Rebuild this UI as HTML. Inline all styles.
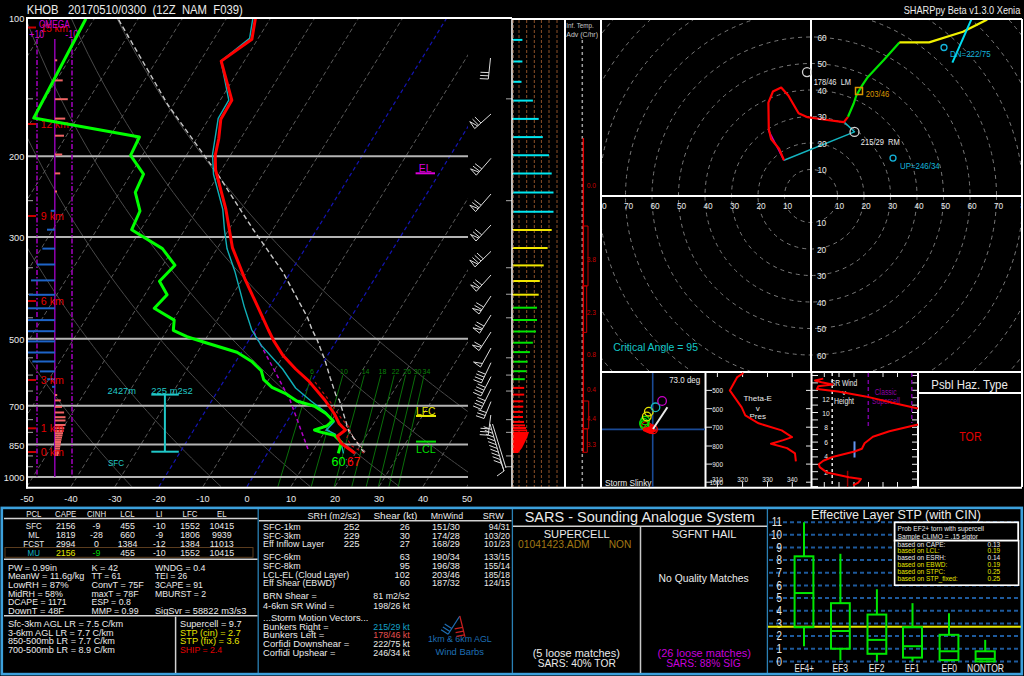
<!DOCTYPE html>
<html><head><meta charset="utf-8"><style>
html,body{margin:0;padding:0;background:#000;width:1024px;height:676px;overflow:hidden}
svg{display:block;font-family:"Liberation Sans",sans-serif}
</style></head><body>
<svg width="1024" height="676" viewBox="0 0 1024 676">
<rect width="1024" height="676" fill="#000"/>
<clipPath id="sk"><rect x="28" y="19" width="440" height="468"/></clipPath>
<g clip-path="url(#sk)">
<polyline points="131.8,486.63 130.01,484.72 128.21,482.8 126.4,480.85 124.58,478.89 122.75,476.91 120.91,474.9 119.07,472.88 117.21,470.83 115.34,468.77 113.47,466.68 111.58,464.57 109.68,462.44 107.77,460.29 105.85,458.11 103.92,455.91 101.98,453.68 100.03,451.43 98.06,449.15 96.09,446.85 94.1,444.52 92.1,442.16 90.09,439.77 88.07,437.35 86.03,434.91 83.98,432.43 81.92,429.93 79.85,427.39 77.76,424.82 75.66,422.21 73.54,419.57 71.41,416.89 69.27,414.18 67.11,411.43 64.94,408.65 62.75,405.82 60.55,402.95 58.33,400.04 56.09,397.09 53.84,394.09 51.58,391.05 49.29,387.96 46.99,384.82 44.67,381.63 42.34,378.39 39.98,375.1 37.61,371.75 35.22,368.34 32.81,364.87 30.38,361.35 27.93,357.76 25.46,354.1 22.97,350.37 20.46,346.58 17.92,342.71 15.37,338.76 12.79,334.73 10.18,330.63 7.56,326.43 4.91,322.14 2.23,317.76 -0.47,313.28 -3.19,308.7 -5.95,304.01 -8.73,299.21 -11.53,294.29 -14.37,289.24 -17.24,284.07 -20.13,278.75 -23.06,273.29 -26.02,267.68 -29.01,261.9 -32.03,255.95 -35.09,249.82 -38.18,243.49 -41.3,236.95 -44.47,230.2 -47.66,223.2 -50.9,215.96 -54.18,208.43 -57.49,200.62 -60.84,192.48 -64.23,184 -67.67,175.14 -71.14,165.87 -74.65,156.14 -78.2,145.92 -81.79,135.15 -85.41,123.75 -89.07,111.67 -92.75,98.81 -96.45,85.06 -100.16,70.29 -103.87,54.34 -107.56,37 -111.19,18" fill="none" stroke="#484848" stroke-width="1" stroke-linejoin="round"/>
<polyline points="221.03,486.63 219,484.72 216.95,482.8 214.9,480.85 212.83,478.89 210.75,476.91 208.66,474.9 206.56,472.88 204.45,470.83 202.32,468.77 200.19,466.68 198.04,464.57 195.87,462.44 193.7,460.29 191.51,458.11 189.31,455.91 187.1,453.68 184.87,451.43 182.63,449.15 180.38,446.85 178.11,444.52 175.83,442.16 173.53,439.77 171.22,437.35 168.89,434.91 166.55,432.43 164.19,429.93 161.82,427.39 159.43,424.82 157.02,422.21 154.6,419.57 152.16,416.89 149.7,414.18 147.23,411.43 144.73,408.65 142.22,405.82 139.69,402.95 137.15,400.04 134.58,397.09 131.99,394.09 129.38,391.05 126.76,387.96 124.11,384.82 121.44,381.63 118.75,378.39 116.03,375.1 113.3,371.75 110.54,368.34 107.75,364.87 104.95,361.35 102.11,357.76 99.25,354.1 96.37,350.37 93.46,346.58 90.52,342.71 87.56,338.76 84.56,334.73 81.54,330.63 78.48,326.43 75.4,322.14 72.28,317.76 69.13,313.28 65.95,308.7 62.74,304.01 59.49,299.21 56.2,294.29 52.87,289.24 49.51,284.07 46.11,278.75 42.66,273.29 39.18,267.68 35.65,261.9 32.08,255.95 28.46,249.82 24.8,243.49 21.08,236.95 17.32,230.2 13.5,223.2 9.64,215.96 5.71,208.43 1.73,200.62 -2.31,192.48 -6.41,184 -10.57,175.14 -14.8,165.87 -19.09,156.14 -23.45,145.92 -27.87,135.15 -32.37,123.75 -36.93,111.67 -41.57,98.81 -46.27,85.06 -51.03,70.29 -55.85,54.34 -60.72,37 -65.61,18" fill="none" stroke="#484848" stroke-width="1" stroke-linejoin="round"/>
<polyline points="310.27,486.63 307.99,484.72 305.7,482.8 303.4,480.85 301.08,478.89 298.75,476.91 296.41,474.9 294.05,472.88 291.69,470.83 289.3,468.77 286.91,466.68 284.49,464.57 282.07,462.44 279.63,460.29 277.17,458.11 274.7,455.91 272.22,453.68 269.72,451.43 267.2,449.15 264.66,446.85 262.12,444.52 259.55,442.16 256.97,439.77 254.37,437.35 251.75,434.91 249.11,432.43 246.46,429.93 243.78,427.39 241.09,424.82 238.38,422.21 235.65,419.57 232.9,416.89 230.13,414.18 227.34,411.43 224.53,408.65 221.7,405.82 218.84,402.95 215.97,400.04 213.06,397.09 210.14,394.09 207.19,391.05 204.22,387.96 201.23,384.82 198.2,381.63 195.16,378.39 192.08,375.1 188.98,371.75 185.85,368.34 182.7,364.87 179.51,361.35 176.3,357.76 173.05,354.1 169.77,350.37 166.46,346.58 163.12,342.71 159.75,338.76 156.34,334.73 152.89,330.63 149.41,326.43 145.89,322.14 142.33,317.76 138.74,313.28 135.1,308.7 131.42,304.01 127.7,299.21 123.93,294.29 120.12,289.24 116.26,284.07 112.35,278.75 108.39,273.29 104.38,267.68 100.31,261.9 96.19,255.95 92.01,249.82 87.77,243.49 83.47,236.95 79.11,230.2 74.67,223.2 70.17,215.96 65.6,208.43 60.95,200.62 56.23,192.48 51.42,184 46.53,175.14 41.55,165.87 36.48,156.14 31.31,145.92 26.04,135.15 20.67,123.75 15.2,111.67 9.61,98.81 3.91,85.06 -1.9,70.29 -7.83,54.34 -13.88,37 -20.03,18" fill="none" stroke="#484848" stroke-width="1" stroke-linejoin="round"/>
<polyline points="399.51,486.63 396.98,484.72 394.45,482.8 391.9,480.85 389.33,478.89 386.75,476.91 384.16,474.9 381.55,472.88 378.92,470.83 376.28,468.77 373.62,466.68 370.95,464.57 368.26,462.44 365.56,460.29 362.83,458.11 360.09,455.91 357.33,453.68 354.56,451.43 351.77,449.15 348.95,446.85 346.12,444.52 343.27,442.16 340.4,439.77 337.51,437.35 334.61,434.91 331.68,432.43 328.73,429.93 325.75,427.39 322.76,424.82 319.75,422.21 316.71,419.57 313.65,416.89 310.57,414.18 307.46,411.43 304.33,408.65 301.17,405.82 297.99,402.95 294.78,400.04 291.55,397.09 288.29,394.09 285,391.05 281.69,387.96 278.34,384.82 274.97,381.63 271.57,378.39 268.13,375.1 264.67,371.75 261.17,368.34 257.64,364.87 254.08,361.35 250.48,357.76 246.84,354.1 243.17,350.37 239.47,346.58 235.72,342.71 231.94,338.76 228.11,334.73 224.24,330.63 220.33,326.43 216.38,322.14 212.38,317.76 208.34,313.28 204.24,308.7 200.1,304.01 195.91,299.21 191.66,294.29 187.36,289.24 183,284.07 178.59,278.75 174.11,273.29 169.57,267.68 164.97,261.9 160.3,255.95 155.56,249.82 150.75,243.49 145.86,236.95 140.89,230.2 135.84,223.2 130.71,215.96 125.49,208.43 120.17,200.62 114.76,192.48 109.25,184 103.62,175.14 97.89,165.87 92.04,156.14 86.06,145.92 79.96,135.15 73.72,123.75 67.33,111.67 60.79,98.81 54.09,85.06 47.22,70.29 40.18,54.34 32.96,37 25.55,18" fill="none" stroke="#484848" stroke-width="1" stroke-linejoin="round"/>
<polyline points="488.74,486.63 485.98,484.72 483.19,482.8 480.4,480.85 477.58,478.89 474.75,476.91 471.91,474.9 469.04,472.88 466.16,470.83 463.26,468.77 460.34,466.68 457.41,464.57 454.46,462.44 451.48,460.29 448.49,458.11 445.48,455.91 442.45,453.68 439.4,451.43 436.33,449.15 433.24,446.85 430.13,444.52 427,442.16 423.84,439.77 420.66,437.35 417.46,434.91 414.24,432.43 410.99,429.93 407.72,427.39 404.43,424.82 401.11,422.21 397.77,419.57 394.4,416.89 391,414.18 387.58,411.43 384.13,408.65 380.65,405.82 377.14,402.95 373.6,400.04 370.04,397.09 366.44,394.09 362.81,391.05 359.15,387.96 355.46,384.82 351.74,381.63 347.98,378.39 344.18,375.1 340.35,371.75 336.49,368.34 332.58,364.87 328.64,361.35 324.66,357.76 320.64,354.1 316.58,350.37 312.47,346.58 308.32,342.71 304.13,338.76 299.89,334.73 295.6,330.63 291.26,326.43 286.87,322.14 282.43,317.76 277.94,313.28 273.39,308.7 268.78,304.01 264.12,299.21 259.39,294.29 254.6,289.24 249.75,284.07 244.83,278.75 239.83,273.29 234.77,267.68 229.63,261.9 224.41,255.95 219.11,249.82 213.72,243.49 208.25,236.95 202.68,230.2 197.01,223.2 191.25,215.96 185.38,208.43 179.39,200.62 173.29,192.48 167.07,184 160.72,175.14 154.23,165.87 147.6,156.14 140.82,145.92 133.87,135.15 126.76,123.75 119.46,111.67 111.97,98.81 104.27,85.06 96.35,70.29 88.2,54.34 79.8,37 71.13,18" fill="none" stroke="#484848" stroke-width="1" stroke-linejoin="round"/>
<polyline points="577.98,486.63 574.97,484.72 571.94,482.8 568.9,480.85 565.83,478.89 562.75,476.91 559.65,474.9 556.54,472.88 553.4,470.83 550.24,468.77 547.06,466.68 543.87,464.57 540.65,462.44 537.41,460.29 534.15,458.11 530.87,455.91 527.57,453.68 524.25,451.43 520.9,449.15 517.53,446.85 514.14,444.52 510.72,442.16 507.28,439.77 503.81,437.35 500.32,434.91 496.81,432.43 493.26,429.93 489.69,427.39 486.1,424.82 482.47,422.21 478.82,419.57 475.14,416.89 471.43,414.18 467.69,411.43 463.92,408.65 460.12,405.82 456.29,402.95 452.42,400.04 448.52,397.09 444.59,394.09 440.62,391.05 436.62,387.96 432.58,384.82 428.5,381.63 424.39,378.39 420.23,375.1 416.04,371.75 411.81,368.34 407.53,364.87 403.21,361.35 398.84,357.76 394.43,354.1 389.98,350.37 385.47,346.58 380.92,342.71 376.32,338.76 371.66,334.73 366.95,330.63 362.19,326.43 357.36,322.14 352.48,317.76 347.54,313.28 342.54,308.7 337.47,304.01 332.33,299.21 327.12,294.29 321.85,289.24 316.49,284.07 311.07,278.75 305.56,273.29 299.96,267.68 294.29,261.9 288.52,255.95 282.66,249.82 276.7,243.49 270.63,236.95 264.46,230.2 258.18,223.2 251.79,215.96 245.26,208.43 238.61,200.62 231.83,192.48 224.9,184 217.82,175.14 210.58,165.87 203.16,156.14 195.57,145.92 187.79,135.15 179.8,123.75 171.59,111.67 163.15,98.81 154.45,85.06 145.48,70.29 136.22,54.34 126.64,37 116.71,18" fill="none" stroke="#484848" stroke-width="1" stroke-linejoin="round"/>
<line x1="-457.02" y1="486.63" x2="-169.28" y2="18" stroke="#5c5c5c" stroke-width="1" stroke-dasharray="4.5,2.7"/>
<line x1="-413.02" y1="486.63" x2="-125.28" y2="18" stroke="#5c5c5c" stroke-width="1" stroke-dasharray="4.5,2.7"/>
<line x1="-369.02" y1="486.63" x2="-81.28" y2="18" stroke="#5c5c5c" stroke-width="1" stroke-dasharray="4.5,2.7"/>
<line x1="-325.02" y1="486.63" x2="-37.28" y2="18" stroke="#5c5c5c" stroke-width="1" stroke-dasharray="4.5,2.7"/>
<line x1="-281.02" y1="486.63" x2="6.72" y2="18" stroke="#5c5c5c" stroke-width="1" stroke-dasharray="4.5,2.7"/>
<line x1="-237.02" y1="486.63" x2="50.72" y2="18" stroke="#5c5c5c" stroke-width="1" stroke-dasharray="4.5,2.7"/>
<line x1="-193.02" y1="486.63" x2="94.72" y2="18" stroke="#5c5c5c" stroke-width="1" stroke-dasharray="4.5,2.7"/>
<line x1="-149.02" y1="486.63" x2="138.72" y2="18" stroke="#5c5c5c" stroke-width="1" stroke-dasharray="4.5,2.7"/>
<line x1="-105.02" y1="486.63" x2="182.72" y2="18" stroke="#5c5c5c" stroke-width="1" stroke-dasharray="4.5,2.7"/>
<line x1="-61.02" y1="486.63" x2="226.72" y2="18" stroke="#5c5c5c" stroke-width="1" stroke-dasharray="4.5,2.7"/>
<line x1="-17.02" y1="486.63" x2="270.72" y2="18" stroke="#5c5c5c" stroke-width="1" stroke-dasharray="4.5,2.7"/>
<line x1="26.98" y1="486.63" x2="314.72" y2="18" stroke="#5c5c5c" stroke-width="1" stroke-dasharray="4.5,2.7"/>
<line x1="70.98" y1="486.63" x2="358.72" y2="18" stroke="#5c5c5c" stroke-width="1" stroke-dasharray="4.5,2.7"/>
<line x1="114.98" y1="486.63" x2="402.72" y2="18" stroke="#5c5c5c" stroke-width="1" stroke-dasharray="4.5,2.7"/>
<line x1="202.98" y1="486.63" x2="490.72" y2="18" stroke="#5c5c5c" stroke-width="1" stroke-dasharray="4.5,2.7"/>
<line x1="290.98" y1="486.63" x2="578.72" y2="18" stroke="#5c5c5c" stroke-width="1" stroke-dasharray="4.5,2.7"/>
<line x1="334.98" y1="486.63" x2="622.72" y2="18" stroke="#5c5c5c" stroke-width="1" stroke-dasharray="4.5,2.7"/>
<line x1="378.98" y1="486.63" x2="666.72" y2="18" stroke="#5c5c5c" stroke-width="1" stroke-dasharray="4.5,2.7"/>
<line x1="422.98" y1="486.63" x2="710.72" y2="18" stroke="#5c5c5c" stroke-width="1" stroke-dasharray="4.5,2.7"/>
<line x1="466.98" y1="486.63" x2="754.72" y2="18" stroke="#5c5c5c" stroke-width="1" stroke-dasharray="4.5,2.7"/>
<line x1="158.98" y1="486.63" x2="446.72" y2="18" stroke="#1414b4" stroke-width="1.2" stroke-dasharray="4,3"/>
<line x1="246.98" y1="486.63" x2="534.72" y2="18" stroke="#1414b4" stroke-width="1.2" stroke-dasharray="4,3"/>
<line x1="277.89" y1="486.63" x2="311.59" y2="375.1" stroke="#0a6e0a" stroke-width="1"/>
<line x1="311.25" y1="486.63" x2="342.85" y2="375.1" stroke="#0a6e0a" stroke-width="1"/>
<line x1="334.2" y1="486.63" x2="364.31" y2="375.1" stroke="#0a6e0a" stroke-width="1"/>
<line x1="351.84" y1="486.63" x2="380.8" y2="375.1" stroke="#0a6e0a" stroke-width="1"/>
<line x1="366.22" y1="486.63" x2="394.22" y2="375.1" stroke="#0a6e0a" stroke-width="1"/>
<line x1="378.39" y1="486.63" x2="405.58" y2="375.1" stroke="#0a6e0a" stroke-width="1"/>
<line x1="388.95" y1="486.63" x2="415.42" y2="375.1" stroke="#0a6e0a" stroke-width="1"/>
<line x1="398.28" y1="486.63" x2="424.11" y2="375.1" stroke="#0a6e0a" stroke-width="1"/>
</g>
<text x="312" y="374" fill="#0a820a" font-size="7" text-anchor="middle">6</text>
<text x="344" y="374" fill="#0a820a" font-size="7" text-anchor="middle">10</text>
<text x="365.6" y="374" fill="#0a820a" font-size="7" text-anchor="middle">14</text>
<text x="382.4" y="374" fill="#0a820a" font-size="7" text-anchor="middle">18</text>
<text x="395.6" y="374" fill="#0a820a" font-size="7" text-anchor="middle">22</text>
<text x="407.2" y="374" fill="#0a820a" font-size="7" text-anchor="middle">26</text>
<text x="417.6" y="374" fill="#0a820a" font-size="7" text-anchor="middle">30</text>
<text x="426.4" y="374" fill="#0a820a" font-size="7" text-anchor="middle">34</text>
<line x1="27" y1="156.14" x2="468" y2="156.14" stroke="#b4b4b4" stroke-width="2"/>
<line x1="27" y1="236.95" x2="468" y2="236.95" stroke="#b4b4b4" stroke-width="2"/>
<line x1="27" y1="338.76" x2="468" y2="338.76" stroke="#b4b4b4" stroke-width="2"/>
<line x1="27" y1="405.82" x2="468" y2="405.82" stroke="#b4b4b4" stroke-width="2"/>
<line x1="27" y1="444.52" x2="468" y2="444.52" stroke="#b4b4b4" stroke-width="2"/>
<line x1="27" y1="476.91" x2="468" y2="476.91" stroke="#b4b4b4" stroke-width="2"/>
<line x1="27" y1="98.81" x2="33" y2="98.81" stroke="#8c8c8c" stroke-width="1.2"/>
<line x1="506" y1="98.81" x2="512" y2="98.81" stroke="#8c8c8c" stroke-width="1.2"/>
<line x1="27" y1="200.62" x2="33" y2="200.62" stroke="#8c8c8c" stroke-width="1.2"/>
<line x1="506" y1="200.62" x2="512" y2="200.62" stroke="#8c8c8c" stroke-width="1.2"/>
<line x1="27" y1="267.68" x2="33" y2="267.68" stroke="#8c8c8c" stroke-width="1.2"/>
<line x1="506" y1="267.68" x2="512" y2="267.68" stroke="#8c8c8c" stroke-width="1.2"/>
<line x1="27" y1="294.29" x2="33" y2="294.29" stroke="#8c8c8c" stroke-width="1.2"/>
<line x1="506" y1="294.29" x2="512" y2="294.29" stroke="#8c8c8c" stroke-width="1.2"/>
<line x1="27" y1="317.76" x2="33" y2="317.76" stroke="#8c8c8c" stroke-width="1.2"/>
<line x1="506" y1="317.76" x2="512" y2="317.76" stroke="#8c8c8c" stroke-width="1.2"/>
<line x1="27" y1="357.76" x2="33" y2="357.76" stroke="#8c8c8c" stroke-width="1.2"/>
<line x1="506" y1="357.76" x2="512" y2="357.76" stroke="#8c8c8c" stroke-width="1.2"/>
<line x1="27" y1="375.1" x2="33" y2="375.1" stroke="#8c8c8c" stroke-width="1.2"/>
<line x1="506" y1="375.1" x2="512" y2="375.1" stroke="#8c8c8c" stroke-width="1.2"/>
<line x1="27" y1="391.05" x2="33" y2="391.05" stroke="#8c8c8c" stroke-width="1.2"/>
<line x1="506" y1="391.05" x2="512" y2="391.05" stroke="#8c8c8c" stroke-width="1.2"/>
<line x1="27" y1="419.57" x2="33" y2="419.57" stroke="#8c8c8c" stroke-width="1.2"/>
<line x1="506" y1="419.57" x2="512" y2="419.57" stroke="#8c8c8c" stroke-width="1.2"/>
<line x1="27" y1="432.43" x2="33" y2="432.43" stroke="#8c8c8c" stroke-width="1.2"/>
<line x1="506" y1="432.43" x2="512" y2="432.43" stroke="#8c8c8c" stroke-width="1.2"/>
<line x1="27" y1="455.91" x2="33" y2="455.91" stroke="#8c8c8c" stroke-width="1.2"/>
<line x1="506" y1="455.91" x2="512" y2="455.91" stroke="#8c8c8c" stroke-width="1.2"/>
<line x1="27" y1="466.68" x2="33" y2="466.68" stroke="#8c8c8c" stroke-width="1.2"/>
<line x1="506" y1="466.68" x2="512" y2="466.68" stroke="#8c8c8c" stroke-width="1.2"/>
<text x="24.3" y="22.1" fill="#ebebeb" font-size="9.2" text-anchor="end">100</text>
<text x="24.3" y="160.24" fill="#ebebeb" font-size="9.2" text-anchor="end">200</text>
<text x="24.3" y="241.05" fill="#ebebeb" font-size="9.2" text-anchor="end">300</text>
<text x="24.3" y="342.86" fill="#ebebeb" font-size="9.2" text-anchor="end">500</text>
<text x="24.3" y="409.92" fill="#ebebeb" font-size="9.2" text-anchor="end">700</text>
<text x="24.3" y="448.62" fill="#ebebeb" font-size="9.2" text-anchor="end">850</text>
<text x="24.3" y="481.01" fill="#ebebeb" font-size="9.2" text-anchor="end">1000</text>
<text x="27" y="501.6" fill="#ebebeb" font-size="9.2" text-anchor="middle">-50</text>
<text x="71" y="501.6" fill="#ebebeb" font-size="9.2" text-anchor="middle">-40</text>
<text x="115" y="501.6" fill="#ebebeb" font-size="9.2" text-anchor="middle">-30</text>
<text x="159" y="501.6" fill="#ebebeb" font-size="9.2" text-anchor="middle">-20</text>
<text x="203" y="501.6" fill="#ebebeb" font-size="9.2" text-anchor="middle">-10</text>
<text x="247" y="501.6" fill="#ebebeb" font-size="9.2" text-anchor="middle">0</text>
<text x="291" y="501.6" fill="#ebebeb" font-size="9.2" text-anchor="middle">10</text>
<text x="335" y="501.6" fill="#ebebeb" font-size="9.2" text-anchor="middle">20</text>
<text x="379" y="501.6" fill="#ebebeb" font-size="9.2" text-anchor="middle">30</text>
<text x="423" y="501.6" fill="#ebebeb" font-size="9.2" text-anchor="middle">40</text>
<text x="467" y="501.6" fill="#ebebeb" font-size="9.2" text-anchor="middle">50</text>
<line x1="37" y1="39" x2="37" y2="477" stroke="#9000a8" stroke-width="1.7" stroke-dasharray="5,2,1.5,2"/>
<line x1="72" y1="39" x2="72" y2="477" stroke="#9000a8" stroke-width="1.7" stroke-dasharray="5,2,1.5,2"/>
<line x1="54.8" y1="39" x2="54.8" y2="477" stroke="#9000b0" stroke-width="1.5"/>
<line x1="50.7" y1="210.8" x2="55" y2="210.8" stroke="#1e64c8" stroke-width="2"/>
<line x1="47" y1="229.7" x2="55" y2="229.7" stroke="#1e64c8" stroke-width="2"/>
<line x1="42.4" y1="248.6" x2="55" y2="248.6" stroke="#1e64c8" stroke-width="2"/>
<line x1="37" y1="264.5" x2="55" y2="264.5" stroke="#1e64c8" stroke-width="2"/>
<line x1="31" y1="280.4" x2="55" y2="280.4" stroke="#1e64c8" stroke-width="2"/>
<line x1="29" y1="294.8" x2="55" y2="294.8" stroke="#1e64c8" stroke-width="2"/>
<line x1="28" y1="308.3" x2="55" y2="308.3" stroke="#1e64c8" stroke-width="2"/>
<line x1="28" y1="320.1" x2="55" y2="320.1" stroke="#1e64c8" stroke-width="2"/>
<line x1="28" y1="331.2" x2="55" y2="331.2" stroke="#1e64c8" stroke-width="2"/>
<line x1="28" y1="341.4" x2="55" y2="341.4" stroke="#1e64c8" stroke-width="2"/>
<line x1="28" y1="352.5" x2="55" y2="352.5" stroke="#1e64c8" stroke-width="2"/>
<line x1="32.3" y1="361.5" x2="55" y2="361.5" stroke="#1e64c8" stroke-width="2"/>
<line x1="40" y1="371.4" x2="55" y2="371.4" stroke="#1e64c8" stroke-width="2"/>
<line x1="47.2" y1="379.2" x2="55" y2="379.2" stroke="#1e64c8" stroke-width="2"/>
<line x1="52" y1="386.8" x2="55" y2="386.8" stroke="#1e64c8" stroke-width="2"/>
<line x1="55" y1="60.3" x2="57.2" y2="60.3" stroke="#f06464" stroke-width="2"/>
<line x1="55" y1="80.4" x2="62.7" y2="80.4" stroke="#f06464" stroke-width="2"/>
<line x1="55" y1="99.2" x2="67.8" y2="99.2" stroke="#f06464" stroke-width="2"/>
<line x1="55" y1="118.6" x2="65.2" y2="118.6" stroke="#f06464" stroke-width="2"/>
<line x1="55" y1="135.7" x2="64" y2="135.7" stroke="#f06464" stroke-width="2"/>
<line x1="55" y1="154.5" x2="62.2" y2="154.5" stroke="#f06464" stroke-width="2"/>
<line x1="55" y1="173.4" x2="60.2" y2="173.4" stroke="#f06464" stroke-width="2"/>
<line x1="55" y1="191.4" x2="57" y2="191.4" stroke="#f06464" stroke-width="2"/>
<line x1="55" y1="395" x2="57.2" y2="395" stroke="#f06464" stroke-width="2"/>
<line x1="55" y1="400.4" x2="60.8" y2="400.4" stroke="#f06464" stroke-width="2"/>
<line x1="55" y1="406.9" x2="62" y2="406.9" stroke="#f06464" stroke-width="2"/>
<line x1="55" y1="412.5" x2="64.1" y2="412.5" stroke="#f06464" stroke-width="2"/>
<line x1="55" y1="417.2" x2="65.5" y2="417.2" stroke="#f06464" stroke-width="2"/>
<line x1="55" y1="420.5" x2="65.5" y2="420.5" stroke="#f06464" stroke-width="2"/>
<line x1="55" y1="425" x2="65.5" y2="425" stroke="#f06464" stroke-width="2"/>
<line x1="55" y1="428.2" x2="64.3" y2="428.2" stroke="#f06464" stroke-width="2"/>
<line x1="55" y1="431" x2="63.5" y2="431" stroke="#f06464" stroke-width="2"/>
<line x1="55" y1="433.2" x2="63" y2="433.2" stroke="#f06464" stroke-width="2"/>
<line x1="55" y1="435.4" x2="62.5" y2="435.4" stroke="#f06464" stroke-width="2"/>
<line x1="55" y1="437.6" x2="62" y2="437.6" stroke="#f06464" stroke-width="2"/>
<line x1="55" y1="439.8" x2="61.5" y2="439.8" stroke="#f06464" stroke-width="2"/>
<line x1="55" y1="442" x2="61" y2="442" stroke="#f06464" stroke-width="2"/>
<line x1="55" y1="444.2" x2="60.7" y2="444.2" stroke="#f06464" stroke-width="2"/>
<line x1="55" y1="446.4" x2="60.3" y2="446.4" stroke="#f06464" stroke-width="2"/>
<line x1="55" y1="448.6" x2="60" y2="448.6" stroke="#f06464" stroke-width="2"/>
<line x1="55" y1="450.8" x2="59.5" y2="450.8" stroke="#f06464" stroke-width="2"/>
<line x1="55" y1="453" x2="59" y2="453" stroke="#f06464" stroke-width="2"/>
<line x1="55" y1="455" x2="58.5" y2="455" stroke="#f06464" stroke-width="2"/>
<line x1="27" y1="27.5" x2="36" y2="27.5" stroke="#c80000" stroke-width="2"/>
<text x="40.8" y="31.5" fill="#e60000" font-size="11.5" text-anchor="start" textLength="27" lengthAdjust="spacingAndGlyphs">15 km</text>
<line x1="27" y1="124" x2="36" y2="124" stroke="#c80000" stroke-width="2"/>
<text x="40.8" y="128" fill="#e60000" font-size="11.5" text-anchor="start" textLength="27.9" lengthAdjust="spacingAndGlyphs">12 km</text>
<line x1="27" y1="216" x2="36" y2="216" stroke="#c80000" stroke-width="2"/>
<text x="40.8" y="220" fill="#e60000" font-size="11.5" text-anchor="start" textLength="23" lengthAdjust="spacingAndGlyphs">9 km</text>
<line x1="27" y1="301" x2="36" y2="301" stroke="#c80000" stroke-width="2"/>
<text x="40.8" y="305" fill="#e60000" font-size="11.5" text-anchor="start" textLength="23" lengthAdjust="spacingAndGlyphs">6 km</text>
<line x1="27" y1="380" x2="36" y2="380" stroke="#c80000" stroke-width="2"/>
<text x="40.8" y="384" fill="#e60000" font-size="11.5" text-anchor="start" textLength="23" lengthAdjust="spacingAndGlyphs">3 km</text>
<line x1="27" y1="428.3" x2="36" y2="428.3" stroke="#c80000" stroke-width="2"/>
<text x="40.8" y="432.3" fill="#e60000" font-size="11.5" text-anchor="start" textLength="23" lengthAdjust="spacingAndGlyphs">1 km</text>
<line x1="27" y1="452" x2="36" y2="452" stroke="#c80000" stroke-width="2"/>
<text x="40.8" y="456" fill="#e60000" font-size="11.5" text-anchor="start" textLength="23" lengthAdjust="spacingAndGlyphs">0 km</text>
<text x="38.9" y="28.4" fill="#d200d2" font-size="10" text-anchor="start" textLength="31" lengthAdjust="spacingAndGlyphs">OMEGA</text>
<text x="29.3" y="37.7" fill="#d200d2" font-size="10" text-anchor="start" textLength="14.8" lengthAdjust="spacingAndGlyphs">+10</text>
<text x="65.3" y="37.7" fill="#d200d2" font-size="10" text-anchor="start" textLength="12.9" lengthAdjust="spacingAndGlyphs">-10</text>
<line x1="151.3" y1="394.6" x2="178.8" y2="394.6" stroke="#20c8c8" stroke-width="2"/>
<line x1="151.3" y1="451.7" x2="178.8" y2="451.7" stroke="#20c8c8" stroke-width="2"/>
<line x1="164.9" y1="394.6" x2="164.9" y2="451.7" stroke="#20c8c8" stroke-width="2"/>
<text x="151.3" y="394" fill="#20c8c8" font-size="9.5" text-anchor="start" textLength="41.4" lengthAdjust="spacingAndGlyphs">225 m2s2</text>
<text x="107.6" y="394.4" fill="#20c8c8" font-size="9.5" text-anchor="start" textLength="28.4" lengthAdjust="spacingAndGlyphs">2427m</text>
<text x="108" y="466.1" fill="#20c8c8" font-size="9.5" text-anchor="start" textLength="16.1" lengthAdjust="spacingAndGlyphs">SFC</text>
<polyline points="253.5,331.4 274.2,370 290,400 309,452" fill="none" stroke="#b400c8" stroke-width="1.5" stroke-linejoin="round" stroke-dasharray="4,3"/>
<polyline points="118.6,19.7 168,105 217.7,174.2 253.5,230 282.5,271.4 307.3,317 312.2,330 317,339.5 325.2,360.8 330,377.3 335.9,395.1 339.3,400 348.7,431 364.2,452.8" fill="none" stroke="#c8c8c8" stroke-width="1.4" stroke-linejoin="round" stroke-dasharray="5,3"/>
<polyline points="315,382 330,401.5 341,418 350.7,429 346.6,438.3 352,446 364,453" fill="none" stroke="#b41414" stroke-width="1.2" stroke-linejoin="round" stroke-dasharray="3,3"/>
<polyline points="346,425 354,438 366,453" fill="none" stroke="#e0a0a0" stroke-width="1" stroke-linejoin="round" stroke-dasharray="3,2"/>
<polyline points="252.8,18.5 249.6,38.4 221,61 228.8,100.2 218.2,118.3 212.5,154.5 213.5,174.2 222.8,209.4 224.5,230 227,248.6 234.9,271.4 244.2,306.6 251.8,330 261.3,345.4 282.6,369 295.6,388 311,401 325.9,412.4 334.2,421.7 326.4,430 335.2,434.2 341.4,444.5 343.5,453.3" fill="none" stroke="#10b0b8" stroke-width="1.4" stroke-linejoin="round"/>
<polyline points="85.9,18.8 33.8,118 139.4,137 130.6,155.3 143.5,174.2 135.3,192.4 140,211 131.7,229.7 162.4,248.6 174.9,265.2 159.5,281.3 167.1,294.8 154.3,308.3 174.2,320.1 173.3,330.3 187,336.7 205.9,342.8 237,352.2 251.8,361.4 261.3,370.8 263.7,379.7 272,387.4 286.2,393.9 296.8,401 314.5,406.2 325.9,413.5 333.1,420.7 326.9,425.9 314.5,430 320.7,432.1 334.2,435.2 341.4,442.4 338.3,453.3" fill="none" stroke="#00ff00" stroke-width="3" stroke-linejoin="round"/>
<polyline points="255.4,18.5 251.9,39.3 221.2,61.1 231.8,100.2 220.8,119.3 218.7,139 215.2,155.5 215.6,170 225.9,209.4 232.4,247.6 245.2,279.7 257.7,306.6 268.4,330 274.3,341.8 282.6,354.9 295.6,369 308.6,380.9 324.8,400 334.2,413.5 339.3,423.8 345.5,430 337.3,436.2 341.4,443.5 354.9,453.3" fill="none" stroke="#ff0000" stroke-width="3" stroke-linejoin="round"/>
<text x="331.6" y="466" fill="#00ff00" font-size="13.7" text-anchor="start" textLength="14" lengthAdjust="spacingAndGlyphs">60</text>
<text x="345.6" y="466" fill="#14b4c0" font-size="13.7" text-anchor="start" textLength="2" lengthAdjust="spacingAndGlyphs">:</text>
<text x="347" y="466" fill="#ff0000" font-size="13.7" text-anchor="start" textLength="13.4" lengthAdjust="spacingAndGlyphs">67</text>
<text x="416" y="414.6" fill="#e6e600" font-size="10.5" text-anchor="start" textLength="19.6" lengthAdjust="spacingAndGlyphs">LFC</text>
<line x1="416" y1="416" x2="436" y2="416" stroke="#e6e600" stroke-width="2"/>
<line x1="416" y1="441.6" x2="436" y2="441.6" stroke="#00dc00" stroke-width="2"/>
<text x="416" y="453.4" fill="#00dc00" font-size="10.5" text-anchor="start" textLength="19.6" lengthAdjust="spacingAndGlyphs">LCL</text>
<text x="418.8" y="172" fill="#dc00dc" font-size="10.5" text-anchor="start" textLength="12.8" lengthAdjust="spacingAndGlyphs">EL</text>
<line x1="415.6" y1="173.3" x2="435" y2="173.3" stroke="#dc00dc" stroke-width="2"/>
<line x1="490.5" y1="58" x2="488.3" y2="79" stroke="#dcdcdc" stroke-width="1"/>
<line x1="488.3" y1="79" x2="479.79" y2="78.61" stroke="#dcdcdc" stroke-width="1"/>
<line x1="488.63" y1="75.82" x2="480.13" y2="75.43" stroke="#dcdcdc" stroke-width="1"/>
<line x1="488.97" y1="72.63" x2="480.46" y2="72.25" stroke="#dcdcdc" stroke-width="1"/>
<line x1="491" y1="114" x2="474.7" y2="128.6" stroke="#dcdcdc" stroke-width="1"/>
<polyline points="474.7,128.6 469.77,121.6 477.68,125.93" fill="none" stroke="#dcdcdc" stroke-width="1" stroke-linejoin="round"/>
<line x1="478.57" y1="125.13" x2="472.53" y2="119.13" stroke="#dcdcdc" stroke-width="1"/>
<line x1="480.96" y1="123" x2="474.91" y2="117" stroke="#dcdcdc" stroke-width="1"/>
<line x1="491" y1="158.3" x2="476.3" y2="175.2" stroke="#dcdcdc" stroke-width="1"/>
<polyline points="476.3,175.2 470.54,168.87 478.93,172.18" fill="none" stroke="#dcdcdc" stroke-width="1" stroke-linejoin="round"/>
<line x1="479.71" y1="171.28" x2="472.97" y2="166.08" stroke="#dcdcdc" stroke-width="1"/>
<line x1="481.81" y1="168.86" x2="475.07" y2="163.66" stroke="#dcdcdc" stroke-width="1"/>
<line x1="491" y1="194" x2="475.6" y2="211.6" stroke="#dcdcdc" stroke-width="1"/>
<polyline points="475.6,211.6 469.86,205.25 478.23,208.59" fill="none" stroke="#dcdcdc" stroke-width="1" stroke-linejoin="round"/>
<line x1="479.02" y1="207.69" x2="472.3" y2="202.47" stroke="#dcdcdc" stroke-width="1"/>
<line x1="481.13" y1="205.28" x2="474.41" y2="200.06" stroke="#dcdcdc" stroke-width="1"/>
<line x1="491" y1="225" x2="476" y2="241" stroke="#dcdcdc" stroke-width="1"/>
<polyline points="476,241 470.48,234.46 478.74,238.08" fill="none" stroke="#dcdcdc" stroke-width="1" stroke-linejoin="round"/>
<line x1="479.56" y1="237.21" x2="473.01" y2="231.76" stroke="#dcdcdc" stroke-width="1"/>
<line x1="481.75" y1="234.87" x2="475.2" y2="229.42" stroke="#dcdcdc" stroke-width="1"/>
<line x1="491" y1="251.3" x2="475" y2="266.9" stroke="#dcdcdc" stroke-width="1"/>
<polyline points="475,266.9 469.78,260.12 477.86,264.11" fill="none" stroke="#dcdcdc" stroke-width="1" stroke-linejoin="round"/>
<line x1="478.72" y1="263.27" x2="472.43" y2="257.53" stroke="#dcdcdc" stroke-width="1"/>
<line x1="481.01" y1="261.04" x2="474.72" y2="255.3" stroke="#dcdcdc" stroke-width="1"/>
<line x1="483.31" y1="258.8" x2="477.01" y2="253.07" stroke="#dcdcdc" stroke-width="1"/>
<line x1="491" y1="275" x2="476.3" y2="291.3" stroke="#dcdcdc" stroke-width="1"/>
<polyline points="476.3,291.3 470.66,284.86 478.98,288.33" fill="none" stroke="#dcdcdc" stroke-width="1" stroke-linejoin="round"/>
<line x1="479.78" y1="287.44" x2="473.14" y2="282.12" stroke="#dcdcdc" stroke-width="1"/>
<line x1="481.93" y1="285.06" x2="475.28" y2="279.74" stroke="#dcdcdc" stroke-width="1"/>
<line x1="491" y1="296" x2="479" y2="314" stroke="#dcdcdc" stroke-width="1"/>
<polyline points="479,314 472.48,308.45 481.22,310.67" fill="none" stroke="#dcdcdc" stroke-width="1" stroke-linejoin="round"/>
<line x1="481.88" y1="309.67" x2="474.53" y2="305.37" stroke="#dcdcdc" stroke-width="1"/>
<line x1="483.66" y1="307.01" x2="476.31" y2="302.71" stroke="#dcdcdc" stroke-width="1"/>
<line x1="491" y1="315" x2="479.6" y2="333.2" stroke="#dcdcdc" stroke-width="1"/>
<polyline points="479.6,333.2 472.93,327.84 481.72,329.81" fill="none" stroke="#dcdcdc" stroke-width="1" stroke-linejoin="round"/>
<line x1="482.36" y1="328.79" x2="474.89" y2="324.7" stroke="#dcdcdc" stroke-width="1"/>
<line x1="484.06" y1="326.08" x2="476.59" y2="321.99" stroke="#dcdcdc" stroke-width="1"/>
<line x1="491" y1="332" x2="479" y2="350.6" stroke="#dcdcdc" stroke-width="1"/>
<polyline points="479,350.6 472.4,345.15 481.17,347.24" fill="none" stroke="#dcdcdc" stroke-width="1" stroke-linejoin="round"/>
<line x1="481.82" y1="346.23" x2="474.41" y2="342.04" stroke="#dcdcdc" stroke-width="1"/>
<line x1="491" y1="348" x2="480.5" y2="367" stroke="#dcdcdc" stroke-width="1"/>
<polyline points="480.5,367 473.54,362.01 482.43,363.5" fill="none" stroke="#dcdcdc" stroke-width="1" stroke-linejoin="round"/>
<line x1="491" y1="362.7" x2="481.4" y2="382.9" stroke="#dcdcdc" stroke-width="1"/>
<line x1="481.4" y1="382.9" x2="473.51" y2="379.7" stroke="#dcdcdc" stroke-width="1"/>
<line x1="482.77" y1="380.01" x2="474.88" y2="376.81" stroke="#dcdcdc" stroke-width="1"/>
<line x1="484.15" y1="377.12" x2="476.26" y2="373.92" stroke="#dcdcdc" stroke-width="1"/>
<line x1="485.52" y1="374.23" x2="477.63" y2="371.03" stroke="#dcdcdc" stroke-width="1"/>
<line x1="491" y1="376.6" x2="481" y2="395.9" stroke="#dcdcdc" stroke-width="1"/>
<line x1="481" y1="395.9" x2="473.22" y2="392.43" stroke="#dcdcdc" stroke-width="1"/>
<line x1="482.47" y1="393.06" x2="474.7" y2="389.59" stroke="#dcdcdc" stroke-width="1"/>
<line x1="483.94" y1="390.22" x2="476.17" y2="386.75" stroke="#dcdcdc" stroke-width="1"/>
<line x1="485.42" y1="387.38" x2="477.64" y2="383.91" stroke="#dcdcdc" stroke-width="1"/>
<line x1="491" y1="389.1" x2="481" y2="409.3" stroke="#dcdcdc" stroke-width="1"/>
<line x1="481" y1="409.3" x2="473.16" y2="405.98" stroke="#dcdcdc" stroke-width="1"/>
<line x1="482.42" y1="406.43" x2="474.58" y2="403.11" stroke="#dcdcdc" stroke-width="1"/>
<line x1="483.84" y1="403.56" x2="476" y2="400.24" stroke="#dcdcdc" stroke-width="1"/>
<line x1="485.26" y1="400.7" x2="477.42" y2="397.37" stroke="#dcdcdc" stroke-width="1"/>
<line x1="491" y1="401.6" x2="484" y2="418.5" stroke="#dcdcdc" stroke-width="1"/>
<line x1="484" y1="418.5" x2="475.96" y2="415.71" stroke="#dcdcdc" stroke-width="1"/>
<line x1="485.22" y1="415.54" x2="477.18" y2="412.75" stroke="#dcdcdc" stroke-width="1"/>
<line x1="486.45" y1="412.59" x2="478.4" y2="409.8" stroke="#dcdcdc" stroke-width="1"/>
<line x1="490.8" y1="415" x2="488.2" y2="435.2" stroke="#dcdcdc" stroke-width="1"/>
<line x1="488.2" y1="435.2" x2="479.71" y2="434.61" stroke="#dcdcdc" stroke-width="1"/>
<line x1="488.61" y1="432.03" x2="480.11" y2="431.44" stroke="#dcdcdc" stroke-width="1"/>
<line x1="489.02" y1="428.85" x2="480.52" y2="428.26" stroke="#dcdcdc" stroke-width="1"/>
<line x1="490" y1="424" x2="504" y2="471" stroke="#dcdcdc" stroke-width="1"/>
<line x1="492.5" y1="424" x2="506" y2="468" stroke="#dcdcdc" stroke-width="1"/>
<line x1="491.68" y1="429.64" x2="483.68" y2="426.64" stroke="#dcdcdc" stroke-width="1"/>
<line x1="492.8" y1="433.4" x2="484.8" y2="430.4" stroke="#dcdcdc" stroke-width="1"/>
<line x1="493.92" y1="437.16" x2="485.92" y2="434.16" stroke="#dcdcdc" stroke-width="1"/>
<line x1="495.04" y1="440.92" x2="487.04" y2="437.92" stroke="#dcdcdc" stroke-width="1"/>
<line x1="496.16" y1="444.68" x2="488.16" y2="441.68" stroke="#dcdcdc" stroke-width="1"/>
<line x1="497.28" y1="448.44" x2="489.28" y2="445.44" stroke="#dcdcdc" stroke-width="1"/>
<line x1="498.4" y1="452.2" x2="490.4" y2="449.2" stroke="#dcdcdc" stroke-width="1"/>
<line x1="499.52" y1="455.96" x2="491.52" y2="452.96" stroke="#dcdcdc" stroke-width="1"/>
<line x1="500.64" y1="459.72" x2="492.64" y2="456.72" stroke="#dcdcdc" stroke-width="1"/>
<line x1="501.76" y1="463.48" x2="493.76" y2="460.48" stroke="#dcdcdc" stroke-width="1"/>
<polyline points="500,460 503,468 504,471 497,476" fill="none" stroke="#dcdcdc" stroke-width="1" stroke-linejoin="round"/>
<line x1="519" y1="20" x2="519" y2="487" stroke="#8c5028" stroke-width="1" stroke-dasharray="3,2"/>
<line x1="526.7" y1="20" x2="526.7" y2="487" stroke="#8c5028" stroke-width="1" stroke-dasharray="3,2"/>
<line x1="534.3" y1="20" x2="534.3" y2="487" stroke="#8c5028" stroke-width="1" stroke-dasharray="3,2"/>
<line x1="541.4" y1="20" x2="541.4" y2="487" stroke="#8c5028" stroke-width="1" stroke-dasharray="3,2"/>
<line x1="549" y1="20" x2="549" y2="487" stroke="#8c5028" stroke-width="1" stroke-dasharray="3,2"/>
<line x1="557" y1="20" x2="557" y2="487" stroke="#8c5028" stroke-width="1" stroke-dasharray="3,2"/>
<line x1="512" y1="39.9" x2="522.4" y2="39.9" stroke="#00e6f0" stroke-width="2"/>
<line x1="512" y1="61.5" x2="522.4" y2="61.5" stroke="#00e6f0" stroke-width="2"/>
<line x1="512" y1="81.8" x2="521.5" y2="81.8" stroke="#00e6f0" stroke-width="2"/>
<line x1="512" y1="100.6" x2="532.9" y2="100.6" stroke="#00e6f0" stroke-width="2"/>
<line x1="512" y1="118.9" x2="538.7" y2="118.9" stroke="#00e6f0" stroke-width="2"/>
<line x1="512" y1="137.1" x2="542.8" y2="137.1" stroke="#00e6f0" stroke-width="2"/>
<line x1="512" y1="155.2" x2="549" y2="155.2" stroke="#00e6f0" stroke-width="2"/>
<line x1="512" y1="173.5" x2="551.7" y2="173.5" stroke="#00e6f0" stroke-width="2"/>
<line x1="512" y1="192.5" x2="553.5" y2="192.5" stroke="#00e6f0" stroke-width="2"/>
<line x1="512" y1="211.7" x2="553.5" y2="211.7" stroke="#00e6f0" stroke-width="2"/>
<line x1="512" y1="230" x2="551.7" y2="230" stroke="#f0e600" stroke-width="2"/>
<line x1="512" y1="248.1" x2="547.6" y2="248.1" stroke="#f0e600" stroke-width="2"/>
<line x1="512" y1="265.4" x2="543.7" y2="265.4" stroke="#f0e600" stroke-width="2"/>
<line x1="512" y1="281" x2="539.8" y2="281" stroke="#f0e600" stroke-width="2"/>
<line x1="512" y1="294.7" x2="538.7" y2="294.7" stroke="#f0e600" stroke-width="2"/>
<line x1="512" y1="307.7" x2="537" y2="307.7" stroke="#00e600" stroke-width="2"/>
<line x1="512" y1="320" x2="537" y2="320" stroke="#00e600" stroke-width="2"/>
<line x1="512" y1="331.5" x2="536" y2="331.5" stroke="#00e600" stroke-width="2"/>
<line x1="512" y1="342.7" x2="532.9" y2="342.7" stroke="#00e600" stroke-width="2"/>
<line x1="512" y1="352.1" x2="529.9" y2="352.1" stroke="#00e600" stroke-width="2"/>
<line x1="512" y1="361.7" x2="527.6" y2="361.7" stroke="#00e600" stroke-width="2"/>
<line x1="512" y1="371.2" x2="526.5" y2="371.2" stroke="#00e600" stroke-width="2"/>
<line x1="512" y1="379.2" x2="524.8" y2="379.2" stroke="#00e600" stroke-width="2"/>
<line x1="512" y1="387.9" x2="524.2" y2="387.9" stroke="#ff0000" stroke-width="2"/>
<line x1="512" y1="394.6" x2="524.2" y2="394.6" stroke="#ff0000" stroke-width="2"/>
<line x1="512" y1="401.3" x2="523.3" y2="401.3" stroke="#ff0000" stroke-width="2"/>
<line x1="512" y1="406.7" x2="523.3" y2="406.7" stroke="#ff0000" stroke-width="2"/>
<line x1="512" y1="411.9" x2="523" y2="411.9" stroke="#ff0000" stroke-width="2"/>
<line x1="512" y1="417" x2="523" y2="417" stroke="#ff0000" stroke-width="2"/>
<line x1="512" y1="421.9" x2="524" y2="421.9" stroke="#ff0000" stroke-width="2"/>
<line x1="512" y1="425.4" x2="525" y2="425.4" stroke="#ff0000" stroke-width="2"/>
<line x1="512" y1="428" x2="526" y2="428" stroke="#ff0000" stroke-width="2"/>
<line x1="512" y1="430.4" x2="527" y2="430.4" stroke="#ff0000" stroke-width="2"/>
<polygon points="512,432 529,432 527,438 522,448 518,453 512,453" fill="#ff0000" stroke="none" stroke-width="1"/>
<text x="566.3" y="27.8" fill="#c8c8c8" font-size="7.7" text-anchor="start" textLength="27.5" lengthAdjust="spacingAndGlyphs">Inf. Temp.</text>
<text x="566.3" y="36.7" fill="#c8c8c8" font-size="7.7" text-anchor="start" textLength="31.7" lengthAdjust="spacingAndGlyphs">Adv (C/hr)</text>
<line x1="582.3" y1="40" x2="582.3" y2="487" stroke="#a0a0a0" stroke-width="1.5" stroke-dasharray="3,3"/>
<line x1="583.3" y1="138" x2="583.3" y2="452" stroke="#e00000" stroke-width="1.5"/>
<polyline points="582.3,226 588,226 588,285.9 582.3,285.9" fill="none" stroke="#c80000" stroke-width="1" stroke-linejoin="miter"/>
<polyline points="582.3,285.9 586.7,285.9 586.7,332.4 582.3,332.4" fill="none" stroke="#c80000" stroke-width="1" stroke-linejoin="miter"/>
<polyline points="582.3,401 588.7,401 588.7,428.8 582.3,428.8" fill="none" stroke="#c80000" stroke-width="1" stroke-linejoin="miter"/>
<polyline points="582.3,428.8 587.3,428.8 587.3,452.3 582.3,452.3" fill="none" stroke="#c80000" stroke-width="1" stroke-linejoin="miter"/>
<text x="586.7" y="187.8" fill="#c80000" font-size="8" text-anchor="start" textLength="9.2" lengthAdjust="spacingAndGlyphs">0.0</text>
<text x="586.7" y="261.8" fill="#c80000" font-size="8" text-anchor="start" textLength="9.2" lengthAdjust="spacingAndGlyphs">3.8</text>
<text x="586.7" y="315.3" fill="#c80000" font-size="8" text-anchor="start" textLength="9.2" lengthAdjust="spacingAndGlyphs">2.3</text>
<text x="586.7" y="356.5" fill="#c80000" font-size="8" text-anchor="start" textLength="9.2" lengthAdjust="spacingAndGlyphs">0.8</text>
<text x="586.7" y="391.6" fill="#c80000" font-size="8" text-anchor="start" textLength="9.2" lengthAdjust="spacingAndGlyphs">0.4</text>
<text x="586.7" y="420.8" fill="#c80000" font-size="8" text-anchor="start" textLength="9.2" lengthAdjust="spacingAndGlyphs">4.4</text>
<text x="586.7" y="447" fill="#c80000" font-size="8" text-anchor="start" textLength="9.2" lengthAdjust="spacingAndGlyphs">3.3</text>
<line x1="27" y1="18" x2="512" y2="18" stroke="#ffffff" stroke-width="2"/>
<line x1="27" y1="17" x2="27" y2="488.5" stroke="#ffffff" stroke-width="2"/>
<line x1="26" y1="487.8" x2="601" y2="487.8" stroke="#ffffff" stroke-width="2"/>
<line x1="512" y1="18" x2="512" y2="488" stroke="#ffffff" stroke-width="1.5"/>
<line x1="513" y1="20" x2="513" y2="487" stroke="#c89678" stroke-width="1" stroke-dasharray="3,2"/>
<line x1="512" y1="19" x2="601" y2="19" stroke="#ffffff" stroke-width="2"/>
<line x1="565" y1="19" x2="565" y2="488" stroke="#ffffff" stroke-width="2"/>
<line x1="601" y1="19" x2="601" y2="487" stroke="#ffffff" stroke-width="2"/>
<text x="26.7" y="14" fill="#ebebeb" font-size="12.2" text-anchor="start" textLength="216" lengthAdjust="spacingAndGlyphs" xml:space="preserve">KHOB   20170510/0300  (12Z  NAM  F039)</text>
<text x="903.7" y="14.2" fill="#ebebeb" font-size="10.3" text-anchor="start" textLength="116.6" lengthAdjust="spacingAndGlyphs">SHARPpy Beta v1.3.0 Xenia</text>
<clipPath id="hd"><rect x="602" y="20" width="419" height="351"/></clipPath>
<g clip-path="url(#hd)">
<circle cx="811" cy="196" r="26.5" fill="none" stroke="#7a7a7a" stroke-width="1" stroke-dasharray="4,4"/>
<circle cx="811" cy="196" r="53" fill="none" stroke="#7a7a7a" stroke-width="1" stroke-dasharray="4,4"/>
<circle cx="811" cy="196" r="79.5" fill="none" stroke="#7a7a7a" stroke-width="1" stroke-dasharray="4,4"/>
<circle cx="811" cy="196" r="106" fill="none" stroke="#7a7a7a" stroke-width="1" stroke-dasharray="4,4"/>
<circle cx="811" cy="196" r="132.5" fill="none" stroke="#7a7a7a" stroke-width="1" stroke-dasharray="4,4"/>
<circle cx="811" cy="196" r="159" fill="none" stroke="#7a7a7a" stroke-width="1" stroke-dasharray="4,4"/>
<circle cx="811" cy="196" r="185.5" fill="none" stroke="#7a7a7a" stroke-width="1" stroke-dasharray="4,4"/>
<circle cx="811" cy="196" r="212" fill="none" stroke="#7a7a7a" stroke-width="1" stroke-dasharray="4,4"/>
<circle cx="811" cy="196" r="238.5" fill="none" stroke="#7a7a7a" stroke-width="1" stroke-dasharray="4,4"/>
<circle cx="811" cy="196" r="265" fill="none" stroke="#7a7a7a" stroke-width="1" stroke-dasharray="4,4"/>
<circle cx="811" cy="196" r="291.5" fill="none" stroke="#7a7a7a" stroke-width="1" stroke-dasharray="4,4"/>
<line x1="601" y1="196" x2="1022" y2="196" stroke="#ffffff" stroke-width="2"/>
<line x1="811" y1="19" x2="811" y2="371" stroke="#ffffff" stroke-width="2"/>
<polyline points="768.4,130.1 784,160.3" fill="none" stroke="#c800c8" stroke-width="1.5" stroke-linejoin="round"/>
<polyline points="784,160.3 854.5,131.9 844.4,122.2" fill="none" stroke="#14b4c0" stroke-width="1.5" stroke-linejoin="round"/>
<polyline points="784,160.3 779.1,148.8 771.1,139 768.8,129.3 768.4,102.6 772.9,91.6 781.2,87.5 788.3,95.5 798.6,113.3 807.5,117.2 823.5,119.5 843.9,122.2 848,116.8" fill="none" stroke="#ff0000" stroke-width="2.2" stroke-linejoin="round"/>
<polyline points="848,116.8 853.7,103.5 856.3,95.5 862.5,84.9 867.9,76.9 883.8,60 899.4,42.4" fill="none" stroke="#00e600" stroke-width="2.2" stroke-linejoin="round"/>
<polyline points="899.4,42.4 929.1,42.4 963,31.8 986.4,19.9 995,14" fill="none" stroke="#f0f000" stroke-width="2.2" stroke-linejoin="round"/>
<line x1="952.4" y1="62.7" x2="971.5" y2="19.1" stroke="#00dcf0" stroke-width="2"/>
<text x="787.5" y="208.5" fill="#ebebeb" font-size="8.3" text-anchor="middle">10</text>
<text x="839.5" y="208.5" fill="#ebebeb" font-size="8.3" text-anchor="middle">10</text>
<text x="761" y="208.5" fill="#ebebeb" font-size="8.3" text-anchor="middle">20</text>
<text x="866" y="208.5" fill="#ebebeb" font-size="8.3" text-anchor="middle">20</text>
<text x="734.5" y="208.5" fill="#ebebeb" font-size="8.3" text-anchor="middle">30</text>
<text x="892.5" y="208.5" fill="#ebebeb" font-size="8.3" text-anchor="middle">30</text>
<text x="708" y="208.5" fill="#ebebeb" font-size="8.3" text-anchor="middle">40</text>
<text x="919" y="208.5" fill="#ebebeb" font-size="8.3" text-anchor="middle">40</text>
<text x="681.5" y="208.5" fill="#ebebeb" font-size="8.3" text-anchor="middle">50</text>
<text x="945.5" y="208.5" fill="#ebebeb" font-size="8.3" text-anchor="middle">50</text>
<text x="655" y="208.5" fill="#ebebeb" font-size="8.3" text-anchor="middle">60</text>
<text x="972" y="208.5" fill="#ebebeb" font-size="8.3" text-anchor="middle">60</text>
<text x="628.5" y="208.5" fill="#ebebeb" font-size="8.3" text-anchor="middle">70</text>
<text x="998.5" y="208.5" fill="#ebebeb" font-size="8.3" text-anchor="middle">70</text>
<text x="602" y="208.5" fill="#ebebeb" font-size="8.3" text-anchor="middle">80</text>
<text x="1025" y="208.5" fill="#ebebeb" font-size="8.3" text-anchor="middle">80</text>
</g>
<text x="822" y="173.2" fill="#ebebeb" font-size="8.3" text-anchor="middle">10</text>
<text x="821.5" y="226.2" fill="#ebebeb" font-size="8.3" text-anchor="middle">10</text>
<text x="822" y="146.7" fill="#ebebeb" font-size="8.3" text-anchor="middle">20</text>
<text x="821.5" y="252.7" fill="#ebebeb" font-size="8.3" text-anchor="middle">20</text>
<text x="822" y="120.2" fill="#ebebeb" font-size="8.3" text-anchor="middle">30</text>
<text x="821.5" y="279.2" fill="#ebebeb" font-size="8.3" text-anchor="middle">30</text>
<text x="822" y="93.7" fill="#ebebeb" font-size="8.3" text-anchor="middle">40</text>
<text x="821.5" y="305.7" fill="#ebebeb" font-size="8.3" text-anchor="middle">40</text>
<text x="822" y="67.2" fill="#ebebeb" font-size="8.3" text-anchor="middle">50</text>
<text x="821.5" y="332.2" fill="#ebebeb" font-size="8.3" text-anchor="middle">50</text>
<text x="822" y="40.7" fill="#ebebeb" font-size="8.3" text-anchor="middle">60</text>
<text x="821.5" y="358.7" fill="#ebebeb" font-size="8.3" text-anchor="middle">60</text>
<circle cx="854.5" cy="131.9" r="4.5" fill="none" stroke="#d2d2d2" stroke-width="1.3"/>
<circle cx="807" cy="72.1" r="4.5" fill="none" stroke="#d2d2d2" stroke-width="1.3"/>
<rect x="855.5" y="87.5" width="7" height="7" fill="none" stroke="#dc9600" stroke-width="1.5"/>
<text x="813.7" y="84.9" fill="#ebebeb" font-size="8.3" text-anchor="start" textLength="37.3" lengthAdjust="spacingAndGlyphs" xml:space="preserve">178/46  LM</text>
<text x="860.8" y="144.9" fill="#ebebeb" font-size="8.3" text-anchor="start" textLength="39" lengthAdjust="spacingAndGlyphs" xml:space="preserve">215/29  RM</text>
<text x="865.7" y="96.9" fill="#dc9600" font-size="8.3" text-anchor="start" textLength="23.5" lengthAdjust="spacingAndGlyphs">203/46</text>
<circle cx="893" cy="158.1" r="3" fill="none" stroke="#14b4dc" stroke-width="1.3"/>
<text x="900" y="168.5" fill="#14b4dc" font-size="8.3" text-anchor="start" textLength="39.7" lengthAdjust="spacingAndGlyphs">UP=246/34</text>
<circle cx="944" cy="47.5" r="3" fill="none" stroke="#14b4dc" stroke-width="1.3"/>
<text x="950" y="57" fill="#14b4dc" font-size="8.3" text-anchor="start" textLength="40.6" lengthAdjust="spacingAndGlyphs">DN=222/75</text>
<text x="613.3" y="351" fill="#14c8c8" font-size="10" text-anchor="start" textLength="84.7" lengthAdjust="spacingAndGlyphs">Critical Angle = 95</text>
<line x1="601" y1="19" x2="1022" y2="19" stroke="#ffffff" stroke-width="2"/>
<line x1="1022" y1="19" x2="1022" y2="487" stroke="#ffffff" stroke-width="2"/>
<line x1="601" y1="372" x2="1022" y2="372" stroke="#ffffff" stroke-width="2"/>
<line x1="705.5" y1="372" x2="705.5" y2="487" stroke="#ffffff" stroke-width="2"/>
<line x1="811.5" y1="372" x2="811.5" y2="487" stroke="#ffffff" stroke-width="2"/>
<line x1="918" y1="372" x2="918" y2="487" stroke="#ffffff" stroke-width="2"/>
<line x1="601" y1="487.8" x2="1022" y2="487.8" stroke="#ffffff" stroke-width="2"/>
<line x1="602" y1="429.4" x2="705" y2="429.4" stroke="#1a4a96" stroke-width="1.6"/>
<line x1="652.7" y1="373" x2="652.7" y2="487" stroke="#1a4a96" stroke-width="1.6"/>
<text x="669.2" y="382.5" fill="#ebebeb" font-size="9" text-anchor="start" textLength="31" lengthAdjust="spacingAndGlyphs">73.0 deg</text>
<text x="605" y="486" fill="#ebebeb" font-size="9" text-anchor="start" textLength="46.5" lengthAdjust="spacingAndGlyphs">Storm Slinky</text>
<circle cx="653" cy="429.4" r="4.3" fill="none" stroke="#ff0000" stroke-width="1.3"/>
<circle cx="649" cy="428" r="4.3" fill="none" stroke="#ff0000" stroke-width="1.3"/>
<circle cx="646" cy="426" r="4.3" fill="none" stroke="#ff0000" stroke-width="1.3"/>
<circle cx="644.5" cy="425" r="4.3" fill="none" stroke="#00e600" stroke-width="1.3"/>
<circle cx="644" cy="423" r="4.3" fill="none" stroke="#00e600" stroke-width="1.3"/>
<circle cx="645.2" cy="420.6" r="4.3" fill="none" stroke="#00e600" stroke-width="1.3"/>
<circle cx="646.8" cy="416.5" r="4.3" fill="none" stroke="#e6e600" stroke-width="1.3"/>
<circle cx="648.8" cy="411.7" r="4.3" fill="none" stroke="#e6e600" stroke-width="1.3"/>
<circle cx="655.5" cy="407.3" r="4.3" fill="none" stroke="#14b4c0" stroke-width="1.3"/>
<circle cx="662.1" cy="401" r="4.3" fill="none" stroke="#c800c8" stroke-width="1.3"/>
<polygon points="643,428 652,426 657,431 650,434 643,431" fill="#ff0000" stroke="none" stroke-width="1"/>
<line x1="653" y1="429" x2="667.4" y2="407.3" stroke="#ebebeb" stroke-width="2"/>
<text x="723" y="393.2" fill="#ebebeb" font-size="7.5" text-anchor="end" textLength="10.7" lengthAdjust="spacingAndGlyphs">500</text>
<line x1="706" y1="390.4" x2="712" y2="390.4" stroke="#ebebeb" stroke-width="1"/>
<line x1="806" y1="390.4" x2="811" y2="390.4" stroke="#ebebeb" stroke-width="1"/>
<text x="723" y="411.5" fill="#ebebeb" font-size="7.5" text-anchor="end" textLength="10.7" lengthAdjust="spacingAndGlyphs">600</text>
<line x1="706" y1="408.7" x2="712" y2="408.7" stroke="#ebebeb" stroke-width="1"/>
<line x1="806" y1="408.7" x2="811" y2="408.7" stroke="#ebebeb" stroke-width="1"/>
<text x="723" y="430" fill="#ebebeb" font-size="7.5" text-anchor="end" textLength="10.7" lengthAdjust="spacingAndGlyphs">700</text>
<line x1="706" y1="427.2" x2="712" y2="427.2" stroke="#ebebeb" stroke-width="1"/>
<line x1="806" y1="427.2" x2="811" y2="427.2" stroke="#ebebeb" stroke-width="1"/>
<text x="723" y="448.8" fill="#ebebeb" font-size="7.5" text-anchor="end" textLength="10.7" lengthAdjust="spacingAndGlyphs">800</text>
<line x1="706" y1="446" x2="712" y2="446" stroke="#ebebeb" stroke-width="1"/>
<line x1="806" y1="446" x2="811" y2="446" stroke="#ebebeb" stroke-width="1"/>
<text x="723" y="466.9" fill="#ebebeb" font-size="7.5" text-anchor="end" textLength="10.7" lengthAdjust="spacingAndGlyphs">900</text>
<line x1="706" y1="464.1" x2="712" y2="464.1" stroke="#ebebeb" stroke-width="1"/>
<line x1="806" y1="464.1" x2="811" y2="464.1" stroke="#ebebeb" stroke-width="1"/>
<text x="723" y="485" fill="#ebebeb" font-size="7.5" text-anchor="end" textLength="13.3" lengthAdjust="spacingAndGlyphs">1000</text>
<line x1="706" y1="482.2" x2="712" y2="482.2" stroke="#ebebeb" stroke-width="1"/>
<line x1="806" y1="482.2" x2="811" y2="482.2" stroke="#ebebeb" stroke-width="1"/>
<text x="717.4" y="481.5" fill="#ebebeb" font-size="7.5" text-anchor="middle" textLength="10.7" lengthAdjust="spacingAndGlyphs">310</text>
<line x1="717.4" y1="372" x2="717.4" y2="377" stroke="#ebebeb" stroke-width="1"/>
<line x1="717.4" y1="482" x2="717.4" y2="487" stroke="#ebebeb" stroke-width="1"/>
<text x="742.6" y="481.5" fill="#ebebeb" font-size="7.5" text-anchor="middle" textLength="10.7" lengthAdjust="spacingAndGlyphs">320</text>
<line x1="742.6" y1="372" x2="742.6" y2="377" stroke="#ebebeb" stroke-width="1"/>
<line x1="742.6" y1="482" x2="742.6" y2="487" stroke="#ebebeb" stroke-width="1"/>
<text x="767.5" y="481.5" fill="#ebebeb" font-size="7.5" text-anchor="middle" textLength="10.7" lengthAdjust="spacingAndGlyphs">330</text>
<line x1="767.5" y1="372" x2="767.5" y2="377" stroke="#ebebeb" stroke-width="1"/>
<line x1="767.5" y1="482" x2="767.5" y2="487" stroke="#ebebeb" stroke-width="1"/>
<text x="792.3" y="481.5" fill="#ebebeb" font-size="7.5" text-anchor="middle" textLength="10.7" lengthAdjust="spacingAndGlyphs">340</text>
<line x1="792.3" y1="372" x2="792.3" y2="377" stroke="#ebebeb" stroke-width="1"/>
<line x1="792.3" y1="482" x2="792.3" y2="487" stroke="#ebebeb" stroke-width="1"/>
<text x="757.7" y="401" fill="#ebebeb" font-size="8" text-anchor="middle">Theta-E</text>
<text x="757.7" y="410.5" fill="#ebebeb" font-size="8" text-anchor="middle">v</text>
<text x="757.7" y="419" fill="#ebebeb" font-size="8" text-anchor="middle">Pres</text>
<polyline points="743.5,373 737.3,377.1 729.8,390.4 741.7,407.3 745.3,415.3 758.6,423.3 781.7,430.4 792,437.1 783.4,440.1 771,443.7 787,448.1 795,453.4 795.9,461.4" fill="none" stroke="#ff0000" stroke-width="2" stroke-linejoin="round"/>
<text x="826" y="474.5" fill="#ebebeb" font-size="7.5" text-anchor="middle" textLength="3.7" lengthAdjust="spacingAndGlyphs">2</text>
<text x="826" y="459.2" fill="#ebebeb" font-size="7.5" text-anchor="middle" textLength="3.7" lengthAdjust="spacingAndGlyphs">4</text>
<text x="826" y="445.1" fill="#ebebeb" font-size="7.5" text-anchor="middle" textLength="3.7" lengthAdjust="spacingAndGlyphs">6</text>
<text x="826" y="430.4" fill="#ebebeb" font-size="7.5" text-anchor="middle" textLength="3.7" lengthAdjust="spacingAndGlyphs">8</text>
<text x="826" y="415.8" fill="#ebebeb" font-size="7.5" text-anchor="middle" textLength="7.4" lengthAdjust="spacingAndGlyphs">10</text>
<text x="826" y="402" fill="#ebebeb" font-size="7.5" text-anchor="middle" textLength="7.4" lengthAdjust="spacingAndGlyphs">12</text>
<line x1="812" y1="486.5" x2="818" y2="486.5" stroke="#ebebeb" stroke-width="1"/>
<line x1="912" y1="486.5" x2="918" y2="486.5" stroke="#ebebeb" stroke-width="1"/>
<line x1="812" y1="479.1" x2="818" y2="479.1" stroke="#ebebeb" stroke-width="1"/>
<line x1="912" y1="479.1" x2="918" y2="479.1" stroke="#ebebeb" stroke-width="1"/>
<line x1="812" y1="471.7" x2="818" y2="471.7" stroke="#ebebeb" stroke-width="1"/>
<line x1="912" y1="471.7" x2="918" y2="471.7" stroke="#ebebeb" stroke-width="1"/>
<line x1="812" y1="464.3" x2="818" y2="464.3" stroke="#ebebeb" stroke-width="1"/>
<line x1="912" y1="464.3" x2="918" y2="464.3" stroke="#ebebeb" stroke-width="1"/>
<line x1="812" y1="456.9" x2="818" y2="456.9" stroke="#ebebeb" stroke-width="1"/>
<line x1="912" y1="456.9" x2="918" y2="456.9" stroke="#ebebeb" stroke-width="1"/>
<line x1="812" y1="449.5" x2="818" y2="449.5" stroke="#ebebeb" stroke-width="1"/>
<line x1="912" y1="449.5" x2="918" y2="449.5" stroke="#ebebeb" stroke-width="1"/>
<line x1="812" y1="442.1" x2="818" y2="442.1" stroke="#ebebeb" stroke-width="1"/>
<line x1="912" y1="442.1" x2="918" y2="442.1" stroke="#ebebeb" stroke-width="1"/>
<line x1="812" y1="434.7" x2="818" y2="434.7" stroke="#ebebeb" stroke-width="1"/>
<line x1="912" y1="434.7" x2="918" y2="434.7" stroke="#ebebeb" stroke-width="1"/>
<line x1="812" y1="427.3" x2="818" y2="427.3" stroke="#ebebeb" stroke-width="1"/>
<line x1="912" y1="427.3" x2="918" y2="427.3" stroke="#ebebeb" stroke-width="1"/>
<line x1="812" y1="419.9" x2="818" y2="419.9" stroke="#ebebeb" stroke-width="1"/>
<line x1="912" y1="419.9" x2="918" y2="419.9" stroke="#ebebeb" stroke-width="1"/>
<line x1="812" y1="412.5" x2="818" y2="412.5" stroke="#ebebeb" stroke-width="1"/>
<line x1="912" y1="412.5" x2="918" y2="412.5" stroke="#ebebeb" stroke-width="1"/>
<line x1="812" y1="405.1" x2="818" y2="405.1" stroke="#ebebeb" stroke-width="1"/>
<line x1="912" y1="405.1" x2="918" y2="405.1" stroke="#ebebeb" stroke-width="1"/>
<line x1="812" y1="397.7" x2="818" y2="397.7" stroke="#ebebeb" stroke-width="1"/>
<line x1="912" y1="397.7" x2="918" y2="397.7" stroke="#ebebeb" stroke-width="1"/>
<line x1="812" y1="390.3" x2="818" y2="390.3" stroke="#ebebeb" stroke-width="1"/>
<line x1="912" y1="390.3" x2="918" y2="390.3" stroke="#ebebeb" stroke-width="1"/>
<line x1="812" y1="382.9" x2="818" y2="382.9" stroke="#ebebeb" stroke-width="1"/>
<line x1="912" y1="382.9" x2="918" y2="382.9" stroke="#ebebeb" stroke-width="1"/>
<line x1="812" y1="375.5" x2="818" y2="375.5" stroke="#ebebeb" stroke-width="1"/>
<line x1="912" y1="375.5" x2="918" y2="375.5" stroke="#ebebeb" stroke-width="1"/>
<line x1="824.3" y1="372" x2="824.3" y2="377" stroke="#ebebeb" stroke-width="1"/>
<line x1="824.3" y1="482" x2="824.3" y2="487" stroke="#ebebeb" stroke-width="1"/>
<line x1="839" y1="372" x2="839" y2="377" stroke="#ebebeb" stroke-width="1"/>
<line x1="839" y1="482" x2="839" y2="487" stroke="#ebebeb" stroke-width="1"/>
<line x1="854" y1="372" x2="854" y2="377" stroke="#ebebeb" stroke-width="1"/>
<line x1="854" y1="482" x2="854" y2="487" stroke="#ebebeb" stroke-width="1"/>
<line x1="868.5" y1="372" x2="868.5" y2="377" stroke="#ebebeb" stroke-width="1"/>
<line x1="868.5" y1="482" x2="868.5" y2="487" stroke="#ebebeb" stroke-width="1"/>
<line x1="883" y1="372" x2="883" y2="377" stroke="#ebebeb" stroke-width="1"/>
<line x1="883" y1="482" x2="883" y2="487" stroke="#ebebeb" stroke-width="1"/>
<line x1="897.5" y1="372" x2="897.5" y2="377" stroke="#ebebeb" stroke-width="1"/>
<line x1="897.5" y1="482" x2="897.5" y2="487" stroke="#ebebeb" stroke-width="1"/>
<line x1="832.2" y1="373" x2="832.2" y2="487" stroke="#ebebeb" stroke-width="1.5" stroke-dasharray="3,3"/>
<line x1="868.3" y1="373" x2="868.3" y2="427.6" stroke="#7800a0" stroke-width="1.5" stroke-dasharray="4,3"/>
<line x1="911.8" y1="373" x2="911.8" y2="423" stroke="#7800a0" stroke-width="1.5" stroke-dasharray="4,3"/>
<text x="830.7" y="385.5" fill="#ebebeb" font-size="8.5" text-anchor="start" textLength="26.6" lengthAdjust="spacingAndGlyphs">SR Wind</text>
<text x="842" y="394.5" fill="#ebebeb" font-size="8" text-anchor="start">v</text>
<text x="834" y="404" fill="#ebebeb" font-size="8.5" text-anchor="start" textLength="20" lengthAdjust="spacingAndGlyphs">Height</text>
<text x="874.7" y="394.5" fill="#8c00a0" font-size="8.5" text-anchor="start" textLength="22" lengthAdjust="spacingAndGlyphs">Classic</text>
<text x="872" y="404" fill="#8c00a0" font-size="8.5" text-anchor="start" textLength="28" lengthAdjust="spacingAndGlyphs">Supercell</text>
<line x1="854.5" y1="441.4" x2="854.5" y2="457.5" stroke="#6496f0" stroke-width="2"/>
<line x1="847.6" y1="470.8" x2="847.6" y2="487" stroke="#960000" stroke-width="1.5"/>
<polyline points="853.1,485.4 858.2,482.7 861,479 849,477.2 827,472.6 819.7,467.1 818.8,464.3 823.3,460.7 832.5,457 854.5,451.5 861.9,448.7 864.6,443.2 872.9,436.8 889.4,431.3 918,424.5" fill="none" stroke="#ff0000" stroke-width="2" stroke-linejoin="round"/>
<polyline points="918,408.5 896.7,403.8 865.5,396.4 838,391.5 816.9,389.1 818.2,386.3 832.5,384.5 821.5,382.3 815,380.5 823.3,378.6" fill="none" stroke="#ff0000" stroke-width="2" stroke-linejoin="round"/>
<text x="931.3" y="388.8" fill="#ebebeb" font-size="12" text-anchor="start" textLength="76.5" lengthAdjust="spacingAndGlyphs">Psbl Haz. Type</text>
<line x1="918" y1="393" x2="1022" y2="393" stroke="#ffffff" stroke-width="2"/>
<text x="959.3" y="441" fill="#e60000" font-size="12" text-anchor="start" textLength="22.3" lengthAdjust="spacingAndGlyphs">TOR</text>
<rect x="1.8" y="507.9" width="1020" height="166.2" fill="none" stroke="#3ca0dc" stroke-width="2.6"/>
<line x1="258.2" y1="509" x2="258.2" y2="673" stroke="#2a80b4" stroke-width="1.3"/>
<line x1="512.4" y1="509" x2="512.4" y2="673" stroke="#2a80b4" stroke-width="1.3"/>
<line x1="767.4" y1="509" x2="767.4" y2="673" stroke="#2a80b4" stroke-width="1.3"/>
<text x="33.8" y="517.1" fill="#ebebeb" font-size="9.3" text-anchor="middle" textLength="15.2" lengthAdjust="spacingAndGlyphs">PCL</text>
<text x="65.7" y="517.1" fill="#ebebeb" font-size="9.3" text-anchor="middle" textLength="21.27" lengthAdjust="spacingAndGlyphs">CAPE</text>
<text x="96.5" y="517.1" fill="#ebebeb" font-size="9.3" text-anchor="middle" textLength="19.1" lengthAdjust="spacingAndGlyphs">CINH</text>
<text x="127.5" y="517.1" fill="#ebebeb" font-size="9.3" text-anchor="middle" textLength="14.33" lengthAdjust="spacingAndGlyphs">LCL</text>
<text x="159.3" y="517.1" fill="#ebebeb" font-size="9.3" text-anchor="middle" textLength="6.51" lengthAdjust="spacingAndGlyphs">LI</text>
<text x="190" y="517.1" fill="#ebebeb" font-size="9.3" text-anchor="middle" textLength="14.76" lengthAdjust="spacingAndGlyphs">LFC</text>
<text x="221.8" y="517.1" fill="#ebebeb" font-size="9.3" text-anchor="middle" textLength="9.56" lengthAdjust="spacingAndGlyphs">EL</text>
<line x1="4" y1="518.6" x2="257.5" y2="518.6" stroke="#d2d2d2" stroke-width="1.5"/>
<text x="33.8" y="529.4" fill="#ebebeb" font-size="9.3" text-anchor="middle" textLength="16" lengthAdjust="spacingAndGlyphs">SFC</text>
<text x="65.7" y="529.4" fill="#ebebeb" font-size="9.3" text-anchor="middle" textLength="19.65" lengthAdjust="spacingAndGlyphs">2156</text>
<text x="96.5" y="529.4" fill="#ebebeb" font-size="9.3" text-anchor="middle" textLength="7.85" lengthAdjust="spacingAndGlyphs">-9</text>
<text x="127.5" y="529.4" fill="#ebebeb" font-size="9.3" text-anchor="middle" textLength="14.74" lengthAdjust="spacingAndGlyphs">455</text>
<text x="159.3" y="529.4" fill="#ebebeb" font-size="9.3" text-anchor="middle" textLength="12.77" lengthAdjust="spacingAndGlyphs">-10</text>
<text x="190" y="529.4" fill="#ebebeb" font-size="9.3" text-anchor="middle" textLength="19.65" lengthAdjust="spacingAndGlyphs">1552</text>
<text x="221.8" y="529.4" fill="#ebebeb" font-size="9.3" text-anchor="middle" textLength="24.57" lengthAdjust="spacingAndGlyphs">10415</text>
<text x="33.8" y="538.1" fill="#ebebeb" font-size="9.3" text-anchor="middle" textLength="11.11" lengthAdjust="spacingAndGlyphs">ML</text>
<text x="65.7" y="538.1" fill="#ebebeb" font-size="9.3" text-anchor="middle" textLength="19.65" lengthAdjust="spacingAndGlyphs">1819</text>
<text x="96.5" y="538.1" fill="#ebebeb" font-size="9.3" text-anchor="middle" textLength="12.77" lengthAdjust="spacingAndGlyphs">-28</text>
<text x="127.5" y="538.1" fill="#ebebeb" font-size="9.3" text-anchor="middle" textLength="14.74" lengthAdjust="spacingAndGlyphs">660</text>
<text x="159.3" y="538.1" fill="#ebebeb" font-size="9.3" text-anchor="middle" textLength="7.85" lengthAdjust="spacingAndGlyphs">-9</text>
<text x="190" y="538.1" fill="#ebebeb" font-size="9.3" text-anchor="middle" textLength="19.65" lengthAdjust="spacingAndGlyphs">1806</text>
<text x="221.8" y="538.1" fill="#ebebeb" font-size="9.3" text-anchor="middle" textLength="19.65" lengthAdjust="spacingAndGlyphs">9939</text>
<text x="33.8" y="546.8" fill="#ebebeb" font-size="9.3" text-anchor="middle" textLength="20.88" lengthAdjust="spacingAndGlyphs">FCST</text>
<text x="65.7" y="546.8" fill="#ebebeb" font-size="9.3" text-anchor="middle" textLength="19.65" lengthAdjust="spacingAndGlyphs">2994</text>
<text x="96.5" y="546.8" fill="#ebebeb" font-size="9.3" text-anchor="middle" textLength="4.91" lengthAdjust="spacingAndGlyphs">0</text>
<text x="127.5" y="546.8" fill="#ebebeb" font-size="9.3" text-anchor="middle" textLength="19.65" lengthAdjust="spacingAndGlyphs">1384</text>
<text x="159.3" y="546.8" fill="#ebebeb" font-size="9.3" text-anchor="middle" textLength="12.77" lengthAdjust="spacingAndGlyphs">-12</text>
<text x="190" y="546.8" fill="#ebebeb" font-size="9.3" text-anchor="middle" textLength="19.65" lengthAdjust="spacingAndGlyphs">1384</text>
<text x="221.8" y="546.8" fill="#ebebeb" font-size="9.3" text-anchor="middle" textLength="23.91" lengthAdjust="spacingAndGlyphs">11013</text>
<text x="33.8" y="555.5" fill="#14b4c0" font-size="9.3" text-anchor="middle" textLength="12.44" lengthAdjust="spacingAndGlyphs">MU</text>
<text x="65.7" y="555.5" fill="#e6e600" font-size="9.3" text-anchor="middle" textLength="19.65" lengthAdjust="spacingAndGlyphs">2156</text>
<text x="96.5" y="555.5" fill="#00dc00" font-size="9.3" text-anchor="middle" textLength="7.85" lengthAdjust="spacingAndGlyphs">-9</text>
<text x="127.5" y="555.5" fill="#ebebeb" font-size="9.3" text-anchor="middle" textLength="14.74" lengthAdjust="spacingAndGlyphs">455</text>
<text x="159.3" y="555.5" fill="#ebebeb" font-size="9.3" text-anchor="middle" textLength="12.77" lengthAdjust="spacingAndGlyphs">-10</text>
<text x="190" y="555.5" fill="#ebebeb" font-size="9.3" text-anchor="middle" textLength="19.65" lengthAdjust="spacingAndGlyphs">1552</text>
<text x="221.8" y="555.5" fill="#ebebeb" font-size="9.3" text-anchor="middle" textLength="24.57" lengthAdjust="spacingAndGlyphs">10415</text>
<rect x="5" y="547.5" width="248" height="9.8" fill="none" stroke="#5a3c1e" stroke-width="1"/>
<line x1="4" y1="559.3" x2="257.5" y2="559.3" stroke="#d2d2d2" stroke-width="1.5"/>
<text x="7.9" y="570.8" fill="#ebebeb" font-size="9.3" text-anchor="start" textLength="49.2" lengthAdjust="spacingAndGlyphs">PW = 0.99in</text>
<text x="91.4" y="570.8" fill="#ebebeb" font-size="9.3" text-anchor="start" textLength="26.7" lengthAdjust="spacingAndGlyphs">K = 42</text>
<text x="154.9" y="570.8" fill="#ebebeb" font-size="9.3" text-anchor="start" textLength="50.6" lengthAdjust="spacingAndGlyphs">WNDG = 0.4</text>
<text x="7.9" y="579.2" fill="#ebebeb" font-size="9.3" text-anchor="start" textLength="76.5" lengthAdjust="spacingAndGlyphs">MeanW = 11.6g/kg</text>
<text x="91.4" y="579.2" fill="#ebebeb" font-size="9.3" text-anchor="start" textLength="29.8" lengthAdjust="spacingAndGlyphs">TT = 61</text>
<text x="154.9" y="579.2" fill="#ebebeb" font-size="9.3" text-anchor="start" textLength="32.4" lengthAdjust="spacingAndGlyphs">TEI = 26</text>
<text x="7.9" y="587.9" fill="#ebebeb" font-size="9.3" text-anchor="start" textLength="60.7" lengthAdjust="spacingAndGlyphs">LowRH = 87%</text>
<text x="91.4" y="587.9" fill="#ebebeb" font-size="9.3" text-anchor="start" textLength="52.4" lengthAdjust="spacingAndGlyphs">ConvT = 75F</text>
<text x="154.9" y="587.9" fill="#ebebeb" font-size="9.3" text-anchor="start" textLength="48" lengthAdjust="spacingAndGlyphs">3CAPE = 91</text>
<text x="7.9" y="596.6" fill="#ebebeb" font-size="9.3" text-anchor="start" textLength="55" lengthAdjust="spacingAndGlyphs">MidRH = 58%</text>
<text x="91.4" y="596.6" fill="#ebebeb" font-size="9.3" text-anchor="start" textLength="47.2" lengthAdjust="spacingAndGlyphs">maxT = 78F</text>
<text x="154.9" y="596.6" fill="#ebebeb" font-size="9.3" text-anchor="start" textLength="51.3" lengthAdjust="spacingAndGlyphs">MBURST = 2</text>
<text x="7.9" y="605.4" fill="#ebebeb" font-size="9.3" text-anchor="start" textLength="58.8" lengthAdjust="spacingAndGlyphs">DCAPE = 1171</text>
<text x="91.4" y="605.4" fill="#ebebeb" font-size="9.3" text-anchor="start" textLength="39.4" lengthAdjust="spacingAndGlyphs">ESP = 0.8</text>
<text x="7.9" y="614" fill="#ebebeb" font-size="9.3" text-anchor="start" textLength="56.2" lengthAdjust="spacingAndGlyphs">DownT = 48F</text>
<text x="91.4" y="614" fill="#ebebeb" font-size="9.3" text-anchor="start" textLength="47.2" lengthAdjust="spacingAndGlyphs">MMP = 0.99</text>
<text x="154.9" y="614" fill="#ebebeb" font-size="9.3" text-anchor="start" textLength="91.5" lengthAdjust="spacingAndGlyphs">SigSvr = 58822 m3/s3</text>
<line x1="4" y1="615.8" x2="257.5" y2="615.8" stroke="#d2d2d2" stroke-width="1.5"/>
<line x1="175.6" y1="616.5" x2="175.6" y2="673" stroke="#d2d2d2" stroke-width="1.5"/>
<text x="7.9" y="627.2" fill="#ebebeb" font-size="9.3" text-anchor="start" textLength="115.2" lengthAdjust="spacingAndGlyphs">Sfc-3km AGL LR = 7.5 C/km</text>
<text x="7.9" y="635.9" fill="#ebebeb" font-size="9.3" text-anchor="start" textLength="105.7" lengthAdjust="spacingAndGlyphs">3-6km AGL LR = 7.7 C/km</text>
<text x="7.9" y="644.4" fill="#ebebeb" font-size="9.3" text-anchor="start" textLength="107" lengthAdjust="spacingAndGlyphs">850-500mb LR = 7.7 C/km</text>
<text x="7.9" y="653.3" fill="#ebebeb" font-size="9.3" text-anchor="start" textLength="107" lengthAdjust="spacingAndGlyphs">700-500mb LR = 8.9 C/km</text>
<text x="180" y="627.2" fill="#ebebeb" font-size="9.3" text-anchor="start" textLength="61.6" lengthAdjust="spacingAndGlyphs">Supercell = 9.7</text>
<text x="180" y="635.9" fill="#e6e600" font-size="9.3" text-anchor="start" textLength="60.7" lengthAdjust="spacingAndGlyphs">STP (cin) = 2.7</text>
<text x="180" y="644.4" fill="#e6e600" font-size="9.3" text-anchor="start" textLength="59.5" lengthAdjust="spacingAndGlyphs">STP (fix) = 3.6</text>
<text x="180" y="653.3" fill="#e60000" font-size="9.3" text-anchor="start" textLength="42" lengthAdjust="spacingAndGlyphs">SHIP = 2.4</text>
<text x="307.5" y="518.8" fill="#ebebeb" font-size="9.3" text-anchor="start" textLength="52.7" lengthAdjust="spacingAndGlyphs">SRH (m2/s2)</text>
<text x="417.4" y="518.8" fill="#ebebeb" font-size="9.3" text-anchor="end" textLength="44" lengthAdjust="spacingAndGlyphs">Shear (kt)</text>
<text x="430.7" y="518.8" fill="#ebebeb" font-size="9.3" text-anchor="start" textLength="32.4" lengthAdjust="spacingAndGlyphs">MnWind</text>
<text x="482.8" y="518.8" fill="#ebebeb" font-size="9.3" text-anchor="start" textLength="20.9" lengthAdjust="spacingAndGlyphs">SRW</text>
<line x1="259" y1="520.8" x2="511.5" y2="520.8" stroke="#d2d2d2" stroke-width="1.5"/>
<text x="263.1" y="530.2" fill="#ebebeb" font-size="9.3" text-anchor="start" textLength="37.5" lengthAdjust="spacingAndGlyphs">SFC-1km</text>
<text x="359.6" y="530.2" fill="#ebebeb" font-size="9.3" text-anchor="end" textLength="15.9" lengthAdjust="spacingAndGlyphs">252</text>
<text x="409.8" y="530.2" fill="#ebebeb" font-size="9.3" text-anchor="end" textLength="10.14" lengthAdjust="spacingAndGlyphs">26</text>
<text x="459.9" y="530.2" fill="#ebebeb" font-size="9.3" text-anchor="end" textLength="27.9" lengthAdjust="spacingAndGlyphs">151/30</text>
<text x="510" y="530.2" fill="#ebebeb" font-size="9.3" text-anchor="end" textLength="21.18" lengthAdjust="spacingAndGlyphs">94/31</text>
<text x="263.1" y="538.5" fill="#ebebeb" font-size="9.3" text-anchor="start" textLength="37.5" lengthAdjust="spacingAndGlyphs">SFC-3km</text>
<text x="359.6" y="538.5" fill="#ebebeb" font-size="9.3" text-anchor="end" textLength="15.9" lengthAdjust="spacingAndGlyphs">229</text>
<text x="409.8" y="538.5" fill="#ebebeb" font-size="9.3" text-anchor="end" textLength="10.14" lengthAdjust="spacingAndGlyphs">30</text>
<text x="459.9" y="538.5" fill="#ebebeb" font-size="9.3" text-anchor="end" textLength="27.9" lengthAdjust="spacingAndGlyphs">174/28</text>
<text x="510" y="538.5" fill="#ebebeb" font-size="9.3" text-anchor="end" textLength="25.88" lengthAdjust="spacingAndGlyphs">103/20</text>
<text x="263.1" y="547.4" fill="#ebebeb" font-size="9.3" text-anchor="start" textLength="61.05" lengthAdjust="spacingAndGlyphs">Eff Inflow Layer</text>
<text x="359.6" y="547.4" fill="#ebebeb" font-size="9.3" text-anchor="end" textLength="15.9" lengthAdjust="spacingAndGlyphs">225</text>
<text x="409.8" y="547.4" fill="#ebebeb" font-size="9.3" text-anchor="end" textLength="10.14" lengthAdjust="spacingAndGlyphs">27</text>
<text x="459.9" y="547.4" fill="#ebebeb" font-size="9.3" text-anchor="end" textLength="27.9" lengthAdjust="spacingAndGlyphs">168/29</text>
<text x="510" y="547.4" fill="#ebebeb" font-size="9.3" text-anchor="end" textLength="25.88" lengthAdjust="spacingAndGlyphs">101/23</text>
<text x="263.1" y="560.3" fill="#ebebeb" font-size="9.3" text-anchor="start" textLength="37.5" lengthAdjust="spacingAndGlyphs">SFC-6km</text>
<text x="409.8" y="560.3" fill="#ebebeb" font-size="9.3" text-anchor="end" textLength="10.14" lengthAdjust="spacingAndGlyphs">63</text>
<text x="459.9" y="560.3" fill="#ebebeb" font-size="9.3" text-anchor="end" textLength="27.9" lengthAdjust="spacingAndGlyphs">190/34</text>
<text x="510" y="560.3" fill="#ebebeb" font-size="9.3" text-anchor="end" textLength="25.88" lengthAdjust="spacingAndGlyphs">133/15</text>
<text x="263.1" y="568.9" fill="#ebebeb" font-size="9.3" text-anchor="start" textLength="37.5" lengthAdjust="spacingAndGlyphs">SFC-8km</text>
<text x="409.8" y="568.9" fill="#ebebeb" font-size="9.3" text-anchor="end" textLength="10.14" lengthAdjust="spacingAndGlyphs">95</text>
<text x="459.9" y="568.9" fill="#ebebeb" font-size="9.3" text-anchor="end" textLength="27.9" lengthAdjust="spacingAndGlyphs">196/38</text>
<text x="510" y="568.9" fill="#ebebeb" font-size="9.3" text-anchor="end" textLength="25.88" lengthAdjust="spacingAndGlyphs">155/14</text>
<text x="263.1" y="577.6" fill="#ebebeb" font-size="9.3" text-anchor="start" textLength="86.05" lengthAdjust="spacingAndGlyphs">LCL-EL (Cloud Layer)</text>
<text x="409.8" y="577.6" fill="#ebebeb" font-size="9.3" text-anchor="end" textLength="15.2" lengthAdjust="spacingAndGlyphs">102</text>
<text x="459.9" y="577.6" fill="#ebebeb" font-size="9.3" text-anchor="end" textLength="27.9" lengthAdjust="spacingAndGlyphs">203/46</text>
<text x="510" y="577.6" fill="#ebebeb" font-size="9.3" text-anchor="end" textLength="25.88" lengthAdjust="spacingAndGlyphs">185/18</text>
<text x="263.1" y="586.1" fill="#ebebeb" font-size="9.3" text-anchor="start" textLength="71.89" lengthAdjust="spacingAndGlyphs">Eff Shear (EBWD)</text>
<text x="409.8" y="586.1" fill="#ebebeb" font-size="9.3" text-anchor="end" textLength="10.14" lengthAdjust="spacingAndGlyphs">60</text>
<text x="459.9" y="586.1" fill="#ebebeb" font-size="9.3" text-anchor="end" textLength="27.9" lengthAdjust="spacingAndGlyphs">187/32</text>
<text x="510" y="586.1" fill="#ebebeb" font-size="9.3" text-anchor="end" textLength="25.88" lengthAdjust="spacingAndGlyphs">124/15</text>
<text x="263.1" y="599.4" fill="#ebebeb" font-size="9.3" text-anchor="start" textLength="53.6" lengthAdjust="spacingAndGlyphs">BRN Shear =</text>
<text x="409.7" y="599.4" fill="#ebebeb" font-size="9.3" text-anchor="end" textLength="36.34" lengthAdjust="spacingAndGlyphs">81 m2/s2</text>
<text x="263.1" y="608.5" fill="#ebebeb" font-size="9.3" text-anchor="start" textLength="71.1" lengthAdjust="spacingAndGlyphs">4-6km SR Wind =</text>
<text x="409.7" y="608.5" fill="#ebebeb" font-size="9.3" text-anchor="end" textLength="36.35" lengthAdjust="spacingAndGlyphs">198/26 kt</text>
<text x="263.1" y="621.3" fill="#ebebeb" font-size="9.3" text-anchor="start" textLength="105.3" lengthAdjust="spacingAndGlyphs">...Storm Motion Vectors...</text>
<text x="263.1" y="629.6" fill="#ebebeb" font-size="9.3" text-anchor="start" textLength="65.4" lengthAdjust="spacingAndGlyphs">Bunkers Right =</text>
<text x="409.7" y="629.6" fill="#14a0c8" font-size="9.3" text-anchor="end" textLength="36.35" lengthAdjust="spacingAndGlyphs">215/29 kt</text>
<text x="263.1" y="638.1" fill="#ebebeb" font-size="9.3" text-anchor="start" textLength="61.2" lengthAdjust="spacingAndGlyphs">Bunkers Left =</text>
<text x="409.7" y="638.1" fill="#e65050" font-size="9.3" text-anchor="end" textLength="36.35" lengthAdjust="spacingAndGlyphs">178/46 kt</text>
<text x="263.1" y="647" fill="#ebebeb" font-size="9.3" text-anchor="start" textLength="86.3" lengthAdjust="spacingAndGlyphs">Corfidi Downshear =</text>
<text x="409.7" y="647" fill="#ebebeb" font-size="9.3" text-anchor="end" textLength="36.35" lengthAdjust="spacingAndGlyphs">222/75 kt</text>
<text x="263.1" y="655.5" fill="#ebebeb" font-size="9.3" text-anchor="start" textLength="72.3" lengthAdjust="spacingAndGlyphs">Corfidi Upshear =</text>
<text x="409.7" y="655.5" fill="#ebebeb" font-size="9.3" text-anchor="end" textLength="36.35" lengthAdjust="spacingAndGlyphs">246/34 kt</text>
<text x="427.9" y="642.4" fill="#1e6eb4" font-size="9.3" text-anchor="start" textLength="63.8" lengthAdjust="spacingAndGlyphs">1km &amp; 6km AGL</text>
<text x="435.5" y="654.6" fill="#1e6eb4" font-size="9.3" text-anchor="start" textLength="48.4" lengthAdjust="spacingAndGlyphs">Wind Barbs</text>
<line x1="448.1" y1="634.2" x2="459.8" y2="616" stroke="#1e6eb4" stroke-width="1.2"/>
<line x1="448.1" y1="634.2" x2="441.1" y2="629.7" stroke="#1e6eb4" stroke-width="1.2"/>
<line x1="449.9" y1="631.4" x2="442.9" y2="626.9" stroke="#1e6eb4" stroke-width="1.2"/>
<line x1="451.7" y1="628.6" x2="444.7" y2="624.1" stroke="#1e6eb4" stroke-width="1.2"/>
<line x1="459.8" y1="616" x2="465" y2="636.8" stroke="#c81e1e" stroke-width="1.2"/>
<line x1="462.66" y1="627.44" x2="454.66" y2="628.94" stroke="#c81e1e" stroke-width="1.2"/>
<line x1="463.6" y1="631.18" x2="455.6" y2="632.68" stroke="#c81e1e" stroke-width="1.2"/>
<line x1="464.53" y1="634.93" x2="456.53" y2="636.43" stroke="#c81e1e" stroke-width="1.2"/>
<text x="524.7" y="522.2" fill="#ebebeb" font-size="14.4" text-anchor="start" textLength="230.2" lengthAdjust="spacingAndGlyphs">SARS - Sounding Analogue System</text>
<line x1="513" y1="526.3" x2="767" y2="526.3" stroke="#d2d2d2" stroke-width="1.5"/>
<line x1="640.5" y1="526.5" x2="640.5" y2="673" stroke="#c8c8c8" stroke-width="1.5"/>
<text x="543.7" y="537.5" fill="#ebebeb" font-size="11" text-anchor="start" textLength="66.1" lengthAdjust="spacingAndGlyphs">SUPERCELL</text>
<text x="671.7" y="537.5" fill="#ebebeb" font-size="11" text-anchor="start" textLength="64.8" lengthAdjust="spacingAndGlyphs">SGFNT HAIL</text>
<text x="518.1" y="547.9" fill="#a07814" font-size="10.5" text-anchor="start" textLength="71.6" lengthAdjust="spacingAndGlyphs">01041423.ADM</text>
<text x="608.7" y="547.9" fill="#a07814" font-size="10.5" text-anchor="start" textLength="22.6" lengthAdjust="spacingAndGlyphs">NON</text>
<text x="658.6" y="582.2" fill="#ebebeb" font-size="10.3" text-anchor="start" textLength="90.2" lengthAdjust="spacingAndGlyphs">No Quality Matches</text>
<text x="532.7" y="657" fill="#ebebeb" font-size="10.8" text-anchor="start" textLength="87.1" lengthAdjust="spacingAndGlyphs">(5 loose matches)</text>
<text x="537.7" y="667.1" fill="#ebebeb" font-size="10.8" text-anchor="start" textLength="78.1" lengthAdjust="spacingAndGlyphs">SARS: 40% TOR</text>
<text x="657.6" y="657" fill="#c800dc" font-size="10.8" text-anchor="start" textLength="93.3" lengthAdjust="spacingAndGlyphs">(26 loose matches)</text>
<text x="666.2" y="667.1" fill="#c800dc" font-size="10.8" text-anchor="start" textLength="74.6" lengthAdjust="spacingAndGlyphs">SARS: 88% SIG</text>
<text x="811.1" y="518.7" fill="#ebebeb" font-size="12" text-anchor="start" textLength="169.8" lengthAdjust="spacingAndGlyphs">Effective Layer STP (with CIN)</text>
<line x1="769" y1="661.4" x2="1020" y2="661.4" stroke="#1e5a9c" stroke-width="2" stroke-dasharray="4,3"/>
<line x1="769" y1="648.74" x2="1020" y2="648.74" stroke="#1e5a9c" stroke-width="2" stroke-dasharray="4,3"/>
<line x1="769" y1="636.08" x2="1020" y2="636.08" stroke="#1e5a9c" stroke-width="2" stroke-dasharray="4,3"/>
<line x1="769" y1="623.42" x2="1020" y2="623.42" stroke="#1e5a9c" stroke-width="2" stroke-dasharray="4,3"/>
<line x1="769" y1="610.76" x2="1020" y2="610.76" stroke="#1e5a9c" stroke-width="2" stroke-dasharray="4,3"/>
<line x1="769" y1="598.1" x2="1020" y2="598.1" stroke="#1e5a9c" stroke-width="2" stroke-dasharray="4,3"/>
<line x1="769" y1="585.44" x2="1020" y2="585.44" stroke="#1e5a9c" stroke-width="2" stroke-dasharray="4,3"/>
<line x1="769" y1="572.78" x2="1020" y2="572.78" stroke="#1e5a9c" stroke-width="2" stroke-dasharray="4,3"/>
<line x1="769" y1="560.12" x2="1020" y2="560.12" stroke="#1e5a9c" stroke-width="2" stroke-dasharray="4,3"/>
<line x1="769" y1="547.46" x2="1020" y2="547.46" stroke="#1e5a9c" stroke-width="2" stroke-dasharray="4,3"/>
<line x1="769" y1="534.8" x2="1020" y2="534.8" stroke="#1e5a9c" stroke-width="2" stroke-dasharray="4,3"/>
<line x1="769" y1="522.14" x2="1020" y2="522.14" stroke="#1e5a9c" stroke-width="2" stroke-dasharray="4,3"/>
<text x="782" y="665.7" fill="#ebebeb" font-size="12" text-anchor="end" textLength="5.47" lengthAdjust="spacingAndGlyphs">0</text>
<text x="782" y="653.04" fill="#ebebeb" font-size="12" text-anchor="end" textLength="5.47" lengthAdjust="spacingAndGlyphs">1</text>
<text x="782" y="640.38" fill="#ebebeb" font-size="12" text-anchor="end" textLength="5.47" lengthAdjust="spacingAndGlyphs">2</text>
<text x="782" y="627.72" fill="#ebebeb" font-size="12" text-anchor="end" textLength="5.47" lengthAdjust="spacingAndGlyphs">3</text>
<text x="782" y="615.06" fill="#ebebeb" font-size="12" text-anchor="end" textLength="5.47" lengthAdjust="spacingAndGlyphs">4</text>
<text x="782" y="602.4" fill="#ebebeb" font-size="12" text-anchor="end" textLength="5.47" lengthAdjust="spacingAndGlyphs">5</text>
<text x="782" y="589.74" fill="#ebebeb" font-size="12" text-anchor="end" textLength="5.47" lengthAdjust="spacingAndGlyphs">6</text>
<text x="782" y="577.08" fill="#ebebeb" font-size="12" text-anchor="end" textLength="5.47" lengthAdjust="spacingAndGlyphs">7</text>
<text x="782" y="564.42" fill="#ebebeb" font-size="12" text-anchor="end" textLength="5.47" lengthAdjust="spacingAndGlyphs">8</text>
<text x="782" y="551.76" fill="#ebebeb" font-size="12" text-anchor="end" textLength="5.47" lengthAdjust="spacingAndGlyphs">9</text>
<text x="782" y="539.1" fill="#ebebeb" font-size="12" text-anchor="end" textLength="10.94" lengthAdjust="spacingAndGlyphs">10</text>
<text x="782" y="526.44" fill="#ebebeb" font-size="12" text-anchor="end" textLength="10.21" lengthAdjust="spacingAndGlyphs">11</text>
<line x1="768" y1="626.8" x2="1021" y2="626.8" stroke="#e6e600" stroke-width="2"/>
<line x1="804" y1="522.14" x2="804" y2="556.32" stroke="#00e600" stroke-width="2"/>
<line x1="804" y1="627.22" x2="804" y2="646.21" stroke="#00e600" stroke-width="2"/>
<rect x="794.6" y="556.32" width="18.8" height="70.9" fill="none" stroke="#00e600" stroke-width="2"/>
<line x1="794.6" y1="593.04" x2="813.4" y2="593.04" stroke="#00e600" stroke-width="2"/>
<line x1="840.4" y1="553.79" x2="840.4" y2="603.16" stroke="#00e600" stroke-width="2"/>
<line x1="840.4" y1="648.74" x2="840.4" y2="660.13" stroke="#00e600" stroke-width="2"/>
<rect x="831" y="603.16" width="18.8" height="45.58" fill="none" stroke="#00e600" stroke-width="2"/>
<line x1="831" y1="631.02" x2="849.8" y2="631.02" stroke="#00e600" stroke-width="2"/>
<line x1="876.9" y1="589.24" x2="876.9" y2="614.56" stroke="#00e600" stroke-width="2"/>
<line x1="876.9" y1="653.8" x2="876.9" y2="661.4" stroke="#00e600" stroke-width="2"/>
<rect x="867.5" y="614.56" width="18.8" height="39.25" fill="none" stroke="#00e600" stroke-width="2"/>
<line x1="867.5" y1="639.88" x2="886.3" y2="639.88" stroke="#00e600" stroke-width="2"/>
<line x1="912.5" y1="603.16" x2="912.5" y2="627.22" stroke="#00e600" stroke-width="2"/>
<line x1="912.5" y1="657.6" x2="912.5" y2="661.4" stroke="#00e600" stroke-width="2"/>
<rect x="903" y="627.22" width="19" height="30.38" fill="none" stroke="#00e600" stroke-width="2"/>
<line x1="903" y1="646.21" x2="922" y2="646.21" stroke="#00e600" stroke-width="2"/>
<line x1="949" y1="613.29" x2="949" y2="634.81" stroke="#00e600" stroke-width="2"/>
<line x1="949" y1="660.13" x2="949" y2="661.4" stroke="#00e600" stroke-width="2"/>
<rect x="939.6" y="634.81" width="18.8" height="25.32" fill="none" stroke="#00e600" stroke-width="2"/>
<line x1="939.6" y1="651.27" x2="958.4" y2="651.27" stroke="#00e600" stroke-width="2"/>
<line x1="985.2" y1="639.88" x2="985.2" y2="651.27" stroke="#00e600" stroke-width="2"/>
<line x1="985.2" y1="661.4" x2="985.2" y2="661.4" stroke="#00e600" stroke-width="2"/>
<rect x="975.6" y="651.27" width="19.2" height="10.13" fill="none" stroke="#00e600" stroke-width="2"/>
<line x1="975.6" y1="658.87" x2="994.8" y2="658.87" stroke="#00e600" stroke-width="2"/>
<text x="794.6" y="672.4" fill="#ebebeb" font-size="10.3" text-anchor="start" textLength="19.3" lengthAdjust="spacingAndGlyphs">EF4+</text>
<text x="832.4" y="672.4" fill="#ebebeb" font-size="10.3" text-anchor="start" textLength="15.6" lengthAdjust="spacingAndGlyphs">EF3</text>
<text x="868.8" y="672.4" fill="#ebebeb" font-size="10.3" text-anchor="start" textLength="15.6" lengthAdjust="spacingAndGlyphs">EF2</text>
<text x="904.8" y="672.4" fill="#ebebeb" font-size="10.3" text-anchor="start" textLength="14.5" lengthAdjust="spacingAndGlyphs">EF1</text>
<text x="941.5" y="672.4" fill="#ebebeb" font-size="10.3" text-anchor="start" textLength="15.6" lengthAdjust="spacingAndGlyphs">EF0</text>
<text x="967" y="672.4" fill="#ebebeb" font-size="10.3" text-anchor="start" textLength="37" lengthAdjust="spacingAndGlyphs">NONTOR</text>
<rect x="894.6" y="522.3" width="123.6" height="18.3" fill="#000" stroke="#ffffff" stroke-width="1.8"/>
<rect x="894.6" y="540.7" width="124" height="44.5" fill="#000" stroke="#ffffff" stroke-width="1.6"/>
<text x="897.6" y="530.9" fill="#ebebeb" font-size="6.6" text-anchor="start" textLength="86.4" lengthAdjust="spacingAndGlyphs">Prob EF2+ torn with supercell</text>
<text x="897.6" y="538.5" fill="#ebebeb" font-size="6.6" text-anchor="start" textLength="80.3" lengthAdjust="spacingAndGlyphs">Sample CLIMO = .15 sigtor</text>
<text x="897.6" y="546.6" fill="#ebebeb" font-size="6.6" text-anchor="start" textLength="47.82" lengthAdjust="spacingAndGlyphs">based on CAPE:</text>
<text x="987.5" y="546.6" fill="#ebebeb" font-size="6.6" text-anchor="start" textLength="12.7" lengthAdjust="spacingAndGlyphs">0.13</text>
<text x="897.6" y="553.4" fill="#e6e600" font-size="6.6" text-anchor="start" textLength="42.07" lengthAdjust="spacingAndGlyphs">based on LCL:</text>
<text x="987.5" y="553.4" fill="#e6e600" font-size="6.6" text-anchor="start" textLength="12.7" lengthAdjust="spacingAndGlyphs">0.19</text>
<text x="897.6" y="560" fill="#ebebeb" font-size="6.6" text-anchor="start" textLength="48.18" lengthAdjust="spacingAndGlyphs">based on ESRH:</text>
<text x="987.5" y="560" fill="#ebebeb" font-size="6.6" text-anchor="start" textLength="12.7" lengthAdjust="spacingAndGlyphs">0.14</text>
<text x="897.6" y="567" fill="#e6e600" font-size="6.6" text-anchor="start" textLength="49.61" lengthAdjust="spacingAndGlyphs">based on EBWD:</text>
<text x="987.5" y="567" fill="#e6e600" font-size="6.6" text-anchor="start" textLength="12.7" lengthAdjust="spacingAndGlyphs">0.19</text>
<text x="897.6" y="573.5" fill="#e6e600" font-size="6.6" text-anchor="start" textLength="47.46" lengthAdjust="spacingAndGlyphs">based on STPC:</text>
<text x="987.5" y="573.5" fill="#e6e600" font-size="6.6" text-anchor="start" textLength="12.7" lengthAdjust="spacingAndGlyphs">0.25</text>
<text x="897.6" y="580.6" fill="#e6e600" font-size="6.6" text-anchor="start" textLength="60.04" lengthAdjust="spacingAndGlyphs">based on STP_fixed:</text>
<text x="987.5" y="580.6" fill="#e6e600" font-size="6.6" text-anchor="start" textLength="12.7" lengthAdjust="spacingAndGlyphs">0.25</text>
</svg></body></html>
